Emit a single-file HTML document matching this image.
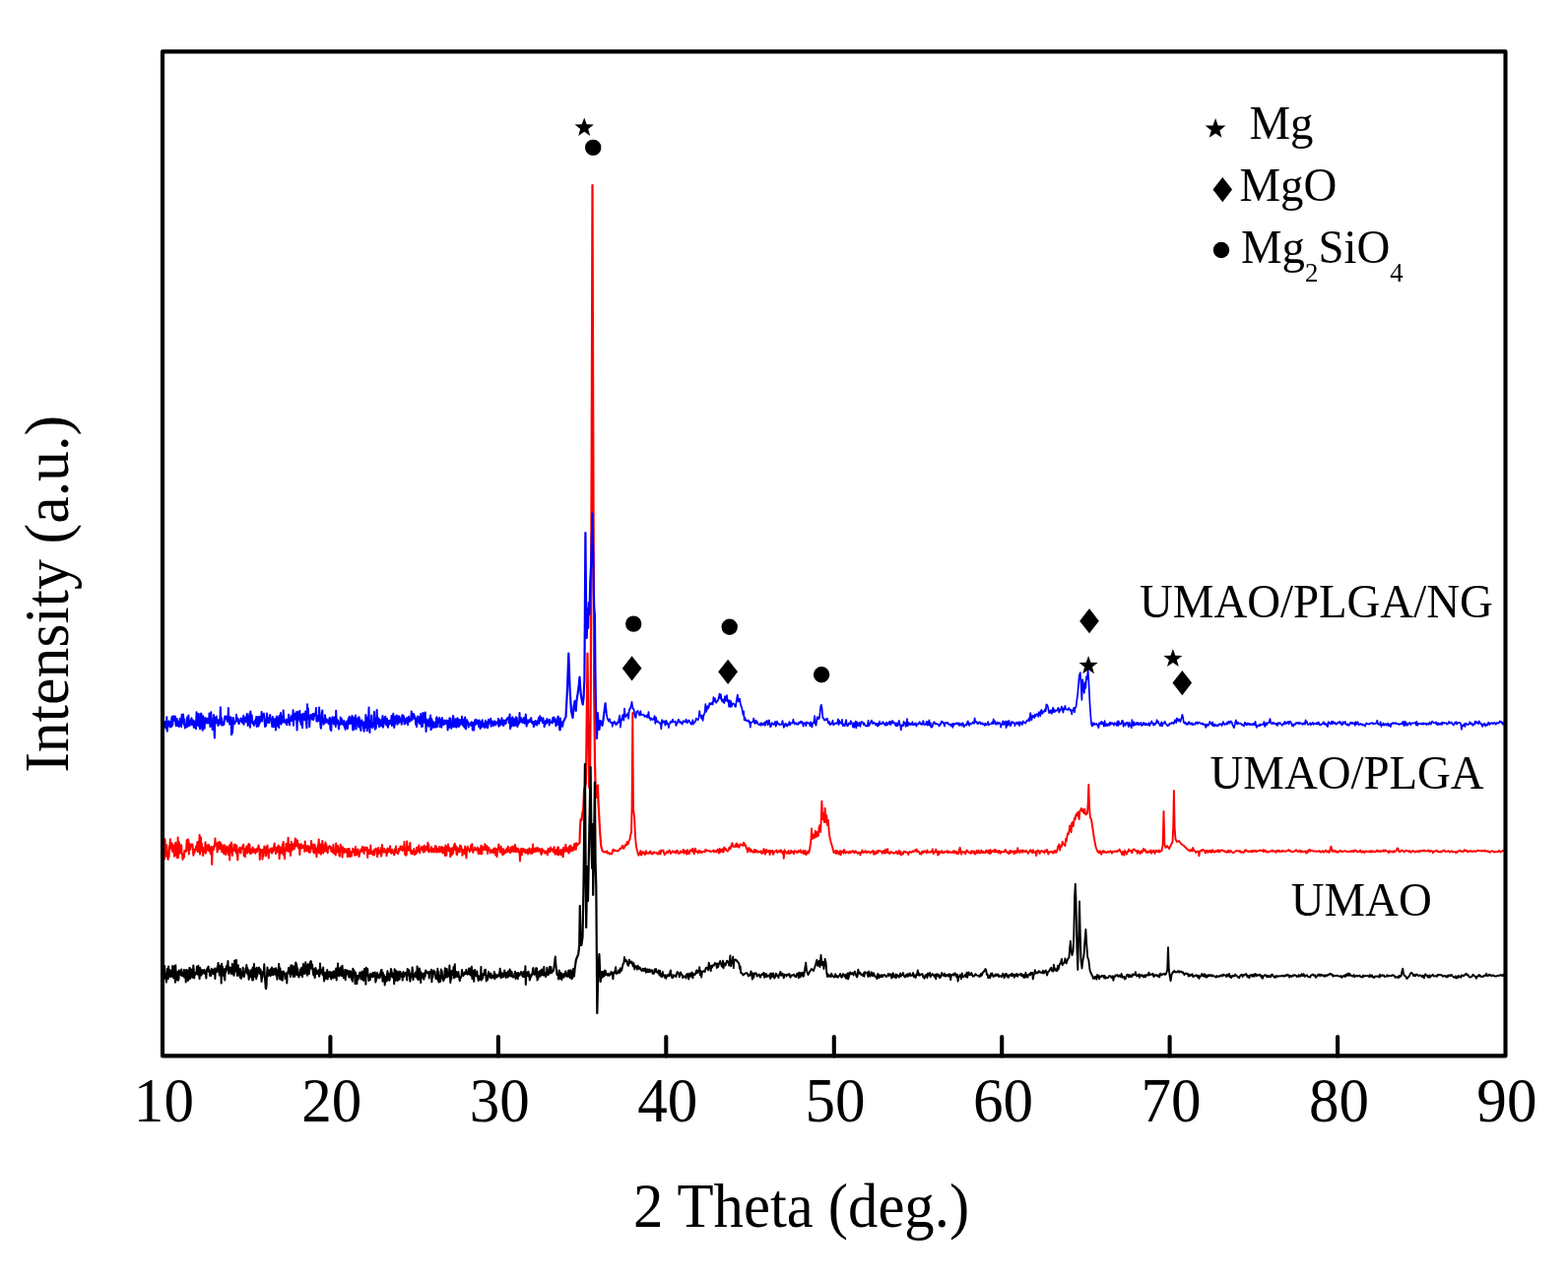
<!DOCTYPE html>
<html lang="en">
<head>
<meta charset="utf-8">
<title>XRD patterns</title>
<style>
html,body{margin:0;padding:0;background:#fff;}
body{width:1592px;height:1300px;overflow:hidden;position:relative;}
svg{position:absolute;left:0;top:0;display:block;}
text{font-family:"Liberation Serif","DejaVu Serif",serif;fill:#000;}
.c{fill:none;stroke-linejoin:round;stroke-linecap:butt;}
</style>
</head>
<body>
<svg width="1592" height="1300" viewBox="0 0 1592 1300">
<rect x="0" y="0" width="1592" height="1300" fill="#fff"/>
<g class="c" stroke="#ff0000">
<path stroke-width="2.0" d="M165.3 855.9L165.8 858.8L166.2 856.5L166.6 860.0L167.1 872.4L167.5 852.2L168.0 867.1L168.4 869.4L168.9 861.3L169.3 858.3L169.8 865.9L170.2 871.6L170.7 872.9L171.1 866.3L171.6 870.1L172.0 859.8L172.5 858.1L172.9 852.3L173.4 857.7L173.8 860.4L174.3 862.9L174.7 856.5L175.2 865.0L175.6 861.1L176.1 858.8L176.5 858.5L177.0 869.7L177.4 862.2L177.9 857.9L178.3 855.7L178.8 868.7L179.2 858.2L179.7 870.9L180.1 869.3L180.6 850.4L181.0 871.2L181.5 860.1L181.9 855.5L182.4 859.2L182.8 866.5L183.3 863.1L183.7 863.7L184.2 858.2L184.6 866.9L185.1 867.4L185.5 873.0L186.0 867.5L186.4 871.2L186.9 870.8L187.3 864.0L187.8 864.8L188.2 864.0L188.7 863.4L189.1 864.8L189.6 853.3L190.0 859.5L190.5 863.1L190.9 852.6L191.4 853.9L191.8 867.4L192.3 856.7L192.7 858.4L193.2 862.8L193.6 859.2L194.1 857.4L194.5 859.0L195.0 859.5L195.4 857.4L195.9 862.0L196.3 868.8L196.8 862.6L197.2 866.9L197.7 864.7L198.1 863.9L198.6 863.6L199.0 859.5L199.5 862.4L199.9 861.9L200.4 855.0L200.8 865.0L201.3 865.1L201.7 863.6L202.2 857.7L202.6 847.9L203.1 867.6L203.5 860.3L204.0 850.5L204.4 864.2L204.9 856.8L205.3 864.0L205.8 860.4L206.2 868.9L206.7 862.3L207.1 861.8L207.6 861.2L208.0 865.4L208.5 855.3L208.9 866.6L209.4 864.0L209.8 858.6L210.3 860.6L210.7 858.4L211.2 860.9L211.6 863.8L212.1 858.1L212.5 863.8L213.0 864.8L213.4 862.8L213.9 867.3L214.3 860.1L214.8 863.9L215.2 878.0L215.7 860.7L216.1 860.1L216.6 860.7L217.0 862.9L217.5 858.7L217.9 859.7L218.4 851.5L218.8 857.1L219.3 856.2L219.7 856.8L220.2 859.6L220.6 865.4L221.1 859.7L221.5 855.5L222.0 862.6L222.4 862.0L222.9 855.1L223.3 862.1L223.8 855.7L224.2 859.1L224.7 858.0L225.1 865.0L225.6 858.2L226.0 860.1L226.5 862.5L226.9 866.4L227.4 867.0L227.8 858.2L228.3 866.2L228.7 863.2L229.2 868.1L229.6 865.5L230.1 859.4L230.5 862.5L231.0 860.9L231.4 863.8L231.9 868.1L232.3 862.9L232.8 858.7L233.2 873.5L233.7 857.5L234.1 862.8L234.6 862.8L235.0 855.5L235.5 865.5L235.9 869.0L236.4 862.8L236.8 863.4L237.3 862.7L237.7 857.8L238.2 864.0L238.6 857.7L239.1 858.1L239.5 865.0L240.0 866.6L240.4 858.7L240.9 867.8L241.3 873.5L241.8 864.3L242.2 863.2L242.7 864.3L243.1 861.6L243.6 860.6L244.0 866.0L244.5 866.4L244.9 861.8L245.4 862.1L245.8 861.6L246.3 860.1L246.7 858.3L247.2 857.7L247.6 869.1L248.1 862.6L248.5 863.9L249.0 870.2L249.4 861.5L249.9 866.1L250.3 859.6L250.8 861.4L251.2 866.5L251.7 862.8L252.1 858.6L252.6 856.9L253.0 864.8L253.5 857.8L253.9 867.0L254.4 864.5L254.8 862.6L255.3 863.3L255.7 866.5L256.2 863.8L256.6 860.4L257.1 864.8L257.5 862.6L258.0 862.4L258.4 865.8L258.9 866.2L259.3 866.7L259.8 863.2L260.2 862.3L260.7 862.6L261.1 865.1L261.6 861.1L262.0 862.5L262.5 858.5L262.9 860.9L263.4 862.9L263.8 872.9L264.3 862.7L264.7 864.6L265.2 864.4L265.6 863.2L266.1 863.9L266.5 872.6L267.0 863.0L267.4 869.7L267.9 866.9L268.3 859.6L268.8 860.2L269.2 862.5L269.7 860.4L270.1 869.3L270.6 865.4L271.0 865.8L271.5 858.5L271.9 865.4L272.4 862.4L272.8 871.5L273.3 863.4L273.7 864.7L274.2 865.1L274.6 862.3L275.1 861.5L275.5 862.4L276.0 866.6L276.4 861.5L276.9 863.4L277.3 865.1L277.8 862.7L278.2 859.3L278.7 856.6L279.1 862.7L279.6 860.7L280.0 867.1L280.5 864.0L280.9 863.7L281.4 860.6L281.8 865.2L282.3 862.4L282.7 858.4L283.2 860.2L283.6 872.1L284.1 861.0L284.5 860.4L285.0 866.8L285.4 865.8L285.9 861.6L286.3 866.4L286.8 857.3L287.2 860.8L287.7 855.0L288.1 868.8L288.6 862.6L289.0 872.2L289.5 864.0L289.9 864.0L290.4 857.1L290.8 858.6L291.3 860.2L291.7 864.2L292.2 858.7L292.6 850.8L293.1 864.4L293.5 865.0L294.0 858.1L294.4 863.2L294.9 868.9L295.3 865.6L295.8 854.8L296.2 861.1L296.7 857.7L297.1 863.3L297.6 860.9L298.0 857.0L298.5 860.8L298.9 862.1L299.4 854.6L299.8 851.4L300.3 857.3L300.7 859.4L301.2 857.4L301.6 853.2L302.1 854.4L302.5 859.7L303.0 861.1L303.4 857.6L303.9 860.5L304.3 867.9L304.8 858.8L305.2 857.8L305.7 857.0L306.1 861.5L306.6 860.4L307.0 860.4L307.5 858.7L307.9 861.1L308.4 861.3L308.8 858.8L309.3 864.8L309.7 854.4L310.2 862.2L310.6 859.2L311.1 861.7L311.5 864.3L312.0 859.7L312.4 859.0L312.9 859.3L313.3 864.1L313.8 865.8L314.2 860.0L314.7 861.3L315.1 865.6L315.6 861.9L316.0 854.0L316.5 857.7L316.9 858.4L317.4 861.5L317.8 857.9L318.3 865.8L318.7 858.1L319.2 866.4L319.6 857.7L320.1 865.3L320.5 861.1L321.0 863.7L321.4 870.1L321.9 864.5L322.3 864.8L322.8 858.4L323.2 858.7L323.7 852.4L324.1 866.5L324.6 864.9L325.0 863.7L325.5 857.4L325.9 867.8L326.4 859.2L326.8 863.3L327.3 854.1L327.7 858.7L328.2 866.5L328.6 863.8L329.1 858.7L329.5 861.3L330.0 864.3L330.4 855.5L330.9 864.4L331.3 857.6L331.8 864.1L332.2 860.9L332.7 866.3L333.1 860.6L333.6 860.6L334.0 860.2L334.5 859.2L334.9 861.4L335.4 859.7L335.8 859.9L336.3 864.5L336.7 861.2L337.2 865.1L337.6 865.6L338.1 865.3L338.5 857.8L339.0 863.9L339.4 867.0L339.9 865.7L340.3 865.9L340.8 868.5L341.2 856.4L341.7 864.5L342.1 865.7L342.6 862.6L343.0 859.1L343.5 864.0L343.9 863.0L344.4 868.4L344.8 869.6L345.3 861.7L345.7 857.7L346.2 860.5L346.6 863.7L347.1 861.8L347.5 870.6L348.0 860.3L348.4 863.9L348.9 864.7L349.3 866.0L349.8 862.0L350.2 863.7L350.7 865.1L351.1 865.4L351.6 862.6L352.0 863.4L352.5 865.8L352.9 870.3L353.4 861.9L353.8 867.9L354.3 869.5L354.7 861.9L355.2 870.0L355.6 869.1L356.1 865.5L356.5 869.4L357.0 869.4L357.4 864.6L357.9 865.6L358.3 861.7L358.8 862.9L359.2 865.3L359.7 864.8L360.1 868.8L360.6 864.5L361.0 860.1L361.5 867.0L361.9 868.2L362.4 866.0L362.8 864.7L363.3 862.5L363.7 863.1L364.2 868.2L364.6 870.1L365.1 866.3L365.5 866.1L366.0 864.2L366.4 862.7L366.9 863.8L367.3 864.8L367.8 860.0L368.2 861.4L368.7 860.3L369.1 863.1L369.6 866.9L370.0 861.7L370.5 860.8L370.9 860.5L371.4 863.6L371.8 861.8L372.3 861.5L372.7 860.9L373.2 871.0L373.6 864.4L374.1 863.1L374.5 863.3L375.0 867.0L375.4 867.2L375.9 865.3L376.3 858.5L376.8 866.7L377.2 867.2L377.7 866.6L378.1 866.1L378.6 864.7L379.0 868.5L379.5 863.4L379.9 868.3L380.4 862.8L380.8 863.6L381.3 863.3L381.7 861.8L382.2 863.1L382.6 866.9L383.1 870.2L383.5 863.0L384.0 860.9L384.4 867.2L384.9 863.7L385.3 865.0L385.8 864.7L386.2 866.4L386.7 861.2L387.1 869.7L387.6 866.7L388.0 858.1L388.5 863.8L388.9 863.4L389.4 865.6L389.8 864.0L390.3 862.0L390.7 863.2L391.2 865.7L391.6 864.3L392.1 863.7L392.5 869.3L393.0 865.7L393.4 861.6L393.9 864.5L394.3 865.4L394.8 862.0L395.2 864.4L395.7 862.2L396.1 859.2L396.6 865.4L397.0 866.3L397.5 866.6L397.9 863.7L398.4 862.8L398.8 864.5L399.3 865.3L399.7 866.5L400.2 868.4L400.6 867.2L401.1 862.3L401.5 863.7L402.0 859.5L402.4 865.5L402.9 866.0L403.3 866.3L403.8 865.2L404.2 867.2L404.7 861.9L405.1 864.6L405.6 863.3L406.0 863.3L406.5 859.4L406.9 861.5L407.4 859.6L407.8 863.0L408.3 861.7L408.7 864.1L409.2 859.5L409.6 862.4L410.1 863.0L410.5 854.9L411.0 867.7L411.4 865.0L411.9 861.7L412.3 868.8L412.8 867.5L413.2 854.4L413.7 862.6L414.1 862.3L414.6 863.6L415.0 860.0L415.5 862.8L415.9 863.7L416.4 856.0L416.8 863.7L417.3 866.7L417.7 863.7L418.2 866.2L418.6 867.6L419.1 864.0L419.5 864.1L420.0 864.3L420.4 862.0L420.9 868.1L421.3 864.5L421.8 864.9L422.2 865.5L422.7 867.0L423.1 860.7L423.6 860.9L424.0 863.7L424.5 864.8L424.9 860.9L425.4 858.4L425.8 865.2L426.3 866.2L426.7 862.3L427.2 862.4L427.6 861.7L428.1 859.9L428.5 861.2L429.0 863.5L429.4 862.7L429.9 865.6L430.3 859.6L430.8 858.7L431.2 864.9L431.7 860.9L432.1 862.3L432.6 863.0L433.0 859.8L433.5 859.7L433.9 863.6L434.4 855.8L434.8 864.4L435.3 858.1L435.7 865.4L436.2 863.5L436.6 863.4L437.1 863.8L437.5 863.2L438.0 860.2L438.4 865.5L438.9 863.1L439.3 864.0L439.8 862.6L440.2 861.8L440.7 865.5L441.1 864.9L441.6 863.3L442.0 859.1L442.5 860.9L442.9 859.7L443.4 865.8L443.8 864.3L444.3 863.0L444.7 862.4L445.2 861.6L445.6 865.3L446.1 860.1L446.5 861.2L447.0 864.9L447.4 864.8L447.9 862.8L448.3 860.1L448.8 860.3L449.2 866.0L449.7 863.8L450.1 866.5L450.6 861.0L451.0 862.8L451.5 861.2L451.9 868.9L452.4 858.6L452.8 864.4L453.3 868.8L453.7 860.9L454.2 860.4L454.6 859.5L455.1 857.5L455.5 864.2L456.0 862.8L456.4 860.9L456.9 862.4L457.3 870.3L457.8 862.5L458.2 862.1L458.7 868.3L459.1 861.3L459.6 861.6L460.0 866.9L460.5 863.1L460.9 858.6L461.4 859.5L461.8 856.8L462.3 861.3L462.7 863.6L463.2 859.4L463.6 867.9L464.1 867.9L464.5 865.5L465.0 861.2L465.4 863.1L465.9 864.2L466.3 865.2L466.8 865.3L467.2 858.4L467.7 860.7L468.1 859.5L468.6 861.7L469.0 863.5L469.5 868.8L469.9 862.9L470.4 865.8L470.8 863.3L471.3 863.0L471.7 866.9L472.2 859.6L472.6 864.4L473.1 867.7L473.5 871.4L474.0 862.1L474.4 861.0L474.9 859.8L475.3 862.1L475.8 863.1L476.2 863.2L476.7 865.2L477.1 862.2L477.6 864.1L478.0 858.4L478.5 861.8L478.9 862.8L479.4 857.2L479.8 863.6L480.3 865.9L480.7 863.4L481.2 863.7L481.6 863.2L482.1 860.7L482.5 863.3L483.0 862.1L483.4 863.4L483.9 863.4L484.3 863.5L484.8 860.5L485.2 863.1L485.7 867.0L486.1 865.5L486.6 862.8L487.0 861.9L487.5 867.2L487.9 863.3L488.4 858.8L488.8 862.1L489.3 867.1L489.7 859.6L490.2 863.4L490.6 860.9L491.1 863.1L491.5 862.4L492.0 861.5L492.4 857.2L492.9 862.3L493.3 863.3L493.8 863.0L494.2 859.0L494.7 861.3L495.1 867.0L495.6 860.8L496.0 862.4L496.5 861.1L496.9 862.8L497.4 863.9L497.8 866.2L498.3 863.9L498.7 863.4L499.2 864.0L499.6 865.4L500.1 863.3L500.5 863.3L501.0 866.3L501.4 861.8L501.9 863.1L502.3 861.5L502.8 862.4L503.2 868.6L503.7 861.8L504.1 864.8L504.6 869.9L505.0 864.7L505.5 862.9L505.9 861.4L506.4 857.5L506.8 861.8L507.3 860.7L507.7 865.7L508.2 865.2L508.6 859.7L509.1 864.5L509.5 862.1L510.0 867.4L510.4 868.2L510.9 865.4L511.3 862.3L511.8 867.3L512.2 865.7L512.7 866.2L513.1 864.8L513.6 863.2L514.0 865.5L514.5 861.8L514.9 865.3L515.4 864.3L515.8 859.8L516.3 864.8L516.7 863.6L517.2 863.0L517.6 863.5L518.1 866.2L518.5 860.4L519.0 861.9L519.4 865.1L519.9 864.3L520.3 859.8L520.8 864.0L521.2 859.7L521.7 865.0L522.1 864.3L522.6 864.7L523.0 857.9L523.5 862.4L523.9 865.3L524.4 861.5L524.8 864.7L525.3 863.3L525.7 864.0L526.2 861.7L526.6 865.7L527.1 864.4L527.5 865.3L528.0 874.5L528.4 863.3L528.9 863.9L529.3 861.7L529.8 868.3L530.2 862.7L530.7 865.2L531.1 861.9L531.6 863.3L532.0 865.0L532.5 865.0L532.9 862.7L533.4 866.4L533.8 864.1L534.3 866.0L534.7 863.6L535.2 865.7L535.6 862.8L536.1 867.5L536.5 864.0L537.0 864.1L537.4 861.5L537.9 865.8L538.3 864.3L538.8 863.6L539.2 866.8L539.7 862.2L540.1 866.7L540.6 866.4L541.0 857.4L541.5 865.5L541.9 865.1L542.4 864.5L542.8 864.8L543.3 861.5L543.7 864.9L544.2 864.5L544.6 861.8L545.1 863.8L545.5 860.8L546.0 864.4L546.4 862.1L546.9 864.5L547.3 861.8L547.8 863.2L548.2 862.6L548.7 863.7L549.1 866.2L549.6 868.0L550.0 861.7L550.5 866.4L550.9 863.7L551.4 863.2L551.8 863.8L552.3 864.1L552.7 864.2L553.2 866.0L553.6 866.8L554.1 865.2L554.5 864.6L555.0 865.5L555.4 865.3L555.9 868.4L556.3 863.1L556.8 861.8L557.2 864.0L557.7 865.3L558.1 864.1L558.6 865.0L559.0 860.5L559.5 863.1L559.9 863.5L560.4 862.3L560.8 863.6L561.3 863.9L561.7 865.2L562.2 862.4L562.6 860.2L563.1 865.3L563.5 867.7L564.0 864.9L564.4 864.8L564.9 863.0L565.3 865.0L565.8 867.7L566.2 860.5L566.7 868.4L567.1 860.5L567.6 867.2L568.0 866.2L568.5 864.2"/>
<path stroke-width="2.2" d="M567.6 867.2L568.0 866.2L568.5 864.2L568.9 865.4L569.4 868.0L569.8 863.0L570.3 867.2L570.7 865.6L571.2 864.5L571.6 870.2L572.1 861.1L572.5 863.9L573.0 862.1L573.4 863.8L573.9 864.8L574.3 858.2L574.8 863.9L575.2 863.9L575.7 861.4L576.1 862.8L576.6 864.9L577.0 863.5L577.5 866.4L577.9 860.2L578.4 859.5L578.8 864.3L579.3 858.8L579.7 864.4L580.2 861.8L580.6 863.0L581.1 860.6L581.5 862.6L582.0 863.7L582.4 863.3L582.9 860.8L583.3 857.1L583.8 860.9L584.2 859.3L584.7 862.6L585.1 856.4L585.6 859.0L586.0 858.0L587.5 857.0L588.5 856.0L589.0 840.0L589.6 832.0L590.5 833.0L591.3 826.0L592.2 822.0L593.1 802.0L594.0 799.0L594.9 795.0L595.6 740.0L596.5 663.5L597.3 740.0L598.2 800.0L599.0 790.0L599.8 700.0L600.6 480.0L601.5 188.0L602.4 480.0L603.2 700.0L604.0 775.0L604.8 805.0L605.8 810.0L606.9 797.5L607.4 812.0L607.9 822.0L608.6 835.0L609.2 845.0L610.2 859.0L611.5 864.0L612.2 864.7L612.9 865.0L613.6 865.0L614.3 865.5L615.0 865.4L615.6 865.3L616.3 864.3"/>
<path stroke-width="1.9" d="M615.6 865.3L616.3 864.3L617.0 866.7L617.7 866.1L618.4 866.2L619.0 867.6L619.7 867.1L620.4 866.5L621.1 867.4L621.8 864.9L622.4 862.8L623.1 864.4L623.8 863.0L624.5 864.2L625.2 864.0L625.8 863.9L626.5 864.4L627.2 864.5L627.9 864.2L628.6 863.4L629.2 862.2L629.9 861.4L630.6 861.9L631.3 861.2L632.0 858.6L632.6 860.3L633.3 861.9L634.0 860.2L634.7 858.2L635.4 858.8L636.0 858.3L636.7 854.9L637.4 857.6L638.1 856.4L638.8 853.1L639.4 853.1L640.0 849.0L641.0 845.0L641.6 820.0L642.3 724.0L643.0 822.0L643.6 826.0L644.2 832.0L645.0 850.0L646.0 860.0L647.8 867.0L648.3 868.8L649.0 866.8L649.6 867.2L650.3 864.0L651.0 868.6L651.7 867.9L652.4 865.3L653.0 865.4L653.7 865.7L654.4 867.7L655.1 867.9L655.8 864.1L656.4 865.7L657.1 866.9L657.8 866.7L658.5 865.9L659.2 866.8L659.8 864.8L660.5 864.5L661.2 866.7L661.9 867.3L662.6 867.5L663.2 865.7L663.9 865.2L664.6 866.1L665.3 865.9L666.0 866.0L666.6 865.9L667.3 867.2L668.0 866.6L668.7 867.6L669.4 864.8L670.0 864.3L670.7 867.4L671.4 863.4L672.1 863.9L672.8 864.5L673.4 863.6L674.1 866.2L674.8 868.2L675.5 866.6L676.2 866.7L676.8 865.3L677.5 864.6L678.2 866.2L678.9 864.5L679.6 863.5L680.2 864.5L680.9 867.0L681.6 866.1L682.3 865.2L683.0 864.3L683.6 864.5L684.3 865.8L685.0 865.3L685.7 864.6L686.4 866.6L687.0 863.9L687.7 863.8L688.4 865.0L689.1 867.0L689.8 866.2L690.4 866.3L691.1 864.3L691.8 865.8L692.5 865.5L693.2 864.7L693.8 862.9L694.5 866.8L695.2 865.2L695.9 864.1L696.6 865.9L697.2 867.7L697.9 863.3L698.6 865.3L699.3 867.1L700.0 866.8L700.6 863.5L701.3 864.2L702.0 863.1L702.7 864.8L703.4 861.8L704.0 863.9L704.7 867.3L705.4 863.5L706.1 861.8L706.8 864.8L707.4 865.1L708.1 865.1L708.8 866.5L709.5 863.6L710.2 864.6L710.8 865.6L711.5 864.4L712.2 866.1L712.9 865.7L713.6 864.8L714.2 864.6L714.9 864.8L715.6 865.4L716.3 862.8L717.0 863.1L717.6 864.0L718.3 863.9L719.0 864.0L719.7 863.9L720.4 864.7L721.0 864.2L721.7 864.9L722.4 864.9L723.1 864.5L723.8 864.1L724.4 863.5L725.1 865.4L725.8 863.9L726.5 864.8L727.2 865.4L727.8 864.7L728.5 862.8L729.2 863.0L729.9 866.5L730.6 862.0L731.2 865.6L731.9 862.6L732.6 863.9L733.3 864.9L734.0 862.1L734.6 865.5L735.3 860.4L736.0 862.9L736.7 861.8L737.4 863.4L738.0 864.0L738.7 864.6L739.4 863.9L740.1 861.3L740.8 860.4L741.4 862.3L742.1 860.4L742.8 857.3L743.5 856.2L744.2 859.7L744.8 859.6L745.5 860.1L746.2 860.0L746.9 857.4L747.6 859.8L748.2 856.4L748.9 859.7L749.6 858.6L750.3 860.8L751.0 859.0L751.6 857.3L752.3 857.7L753.0 858.0L753.7 858.7L754.4 858.9L755.0 855.6L755.7 856.5L756.4 859.1L757.1 858.6L757.8 861.9L758.4 861.3L759.1 865.6L759.8 863.0L760.5 861.1L761.2 862.8L761.8 864.9L762.5 862.7L763.2 864.0L763.9 865.3L764.6 865.7L765.2 865.2L765.9 863.0L766.6 865.7L767.3 863.2L768.0 864.7L768.6 864.0L769.3 865.7L770.0 864.8L770.7 865.1L771.4 865.5L772.0 864.9L772.7 864.3L773.4 867.1L774.1 865.5L774.8 865.8L775.4 862.2L776.1 863.1L776.8 867.7L777.5 865.8L778.2 863.0L778.8 865.5L779.5 865.1L780.2 863.9L780.9 864.4L781.6 868.1L782.2 863.8L782.9 865.6L783.6 864.1L784.3 863.7L785.0 867.8L785.6 866.4L786.3 864.6L787.0 864.6L787.7 864.6L788.4 863.4L789.0 865.7L789.7 865.8L790.4 864.4L791.1 865.0L791.8 863.7L792.4 865.4L793.1 863.3L793.8 865.0L794.5 866.6L795.2 864.9L795.8 871.9L796.5 863.2L797.2 864.7L797.9 865.0L798.6 866.7L799.2 866.7L799.9 865.3L800.6 863.9L801.3 867.0L802.0 865.9L802.6 866.5L803.3 863.8L804.0 865.7L804.7 864.8L805.4 866.1L806.0 867.2L806.7 863.9L807.4 865.2L808.1 865.3L808.8 864.4L809.4 866.0L810.1 865.8L810.8 864.0L811.5 864.4L812.2 865.5L812.8 863.3L813.5 865.7L814.2 866.1L814.9 866.3L815.6 863.6L816.2 867.2L816.9 867.1L817.6 863.9L818.3 868.0L819.0 867.3L819.6 866.2L820.3 864.5L821.0 866.5L821.7 864.5L822.0 863.0L823.3 855.0L824.0 841.5L824.8 852.0L825.8 848.0L826.8 851.0L827.8 844.0L828.8 850.0L829.8 845.0L830.8 849.0L831.6 840.0L832.4 838.0L833.2 845.0L834.4 813.7L835.2 832.0L836.0 826.0L836.8 835.0L837.6 820.8L838.4 835.0L839.2 828.0L840.0 838.0L840.8 833.0L842.0 848.0L843.5 855.0L845.0 860.0L846.6 866.0L847.5 865.1L848.2 863.9L848.9 867.0L849.6 863.9L850.2 864.4L850.9 866.0L851.6 867.5L852.3 865.2L853.0 864.1L853.6 868.4L854.3 865.3L855.0 864.2L855.7 865.4L856.4 866.4L857.0 862.9L857.7 864.4L858.4 866.5L859.1 865.9L859.8 865.2L860.4 865.1L861.1 865.8L861.8 866.6L862.5 864.7L863.2 864.9L863.8 866.0L864.5 864.8L865.2 864.2L865.9 865.0L866.6 864.3L867.2 866.1L867.9 866.0L868.6 864.2L869.3 865.2L870.0 865.7L870.6 866.8L871.3 866.1L872.0 865.6L872.7 865.7L873.4 868.4L874.0 866.0L874.7 866.0L875.4 863.5L876.1 865.6L876.8 866.0L877.4 865.5L878.1 864.6L878.8 863.9L879.5 866.0L880.2 866.2L880.8 865.7L881.5 864.6L882.2 865.0L882.9 865.4L883.6 866.4L884.2 865.7L884.9 864.8L885.6 865.1L886.3 863.9L887.0 867.7L887.6 864.6L888.3 867.4L889.0 865.7L889.7 866.9L890.4 864.2L891.0 866.2L891.7 864.2L892.4 863.8L893.1 864.5L893.8 864.3L894.4 864.4L895.1 865.0L895.8 866.8L896.5 864.6L897.2 863.9L897.8 866.4L898.5 866.5L899.2 862.8L899.9 866.0L900.6 864.2L901.2 862.2L901.9 866.2L902.6 866.7L903.3 867.0L904.0 865.4L904.6 864.9L905.3 865.6L906.0 866.0L906.7 866.1L907.4 866.9L908.0 865.9L908.7 866.1L909.4 865.8L910.1 864.6L910.8 866.1L911.4 867.2L912.1 866.3L912.8 863.8L913.5 867.0L914.2 864.7L914.8 868.6L915.5 867.3L916.2 866.2L916.9 867.6L917.6 864.7L918.2 865.3L918.9 864.6L919.6 865.8L920.3 865.5L921.0 865.7L921.6 865.7L922.3 868.0L923.0 865.5L923.7 864.9L924.4 865.5L925.0 865.9L925.7 865.7L926.4 864.3L927.1 864.8L927.8 865.0L928.4 864.1L929.1 863.4L929.8 864.5L930.5 862.5L931.2 865.1L931.8 864.2L932.5 865.0L933.2 865.1L933.9 867.1L934.6 866.8L935.2 867.7L935.9 865.3L936.6 864.7L937.3 866.2L938.0 864.2L938.6 865.2L939.3 864.4L940.0 865.1L940.7 866.3L941.4 863.4L942.0 865.5L942.7 865.5L943.4 865.6L944.1 865.8L944.8 864.9L945.4 865.2L946.1 865.0L946.8 862.3L947.5 867.2L948.2 866.3L948.8 865.8L949.5 864.6L950.2 862.7L950.9 865.6L951.6 864.6L952.2 868.5L952.9 868.0L953.6 864.5L954.3 866.4L955.0 866.0L955.6 865.2L956.3 864.0L957.0 866.1L957.7 866.4L958.4 866.1L959.0 864.8L959.7 865.4L960.4 865.4L961.1 865.3L961.8 864.0L962.4 866.2L963.1 865.7L963.8 864.7L964.5 865.4L965.2 866.0L965.8 865.5L966.5 865.7L967.2 865.8L967.9 864.2L968.6 866.2L969.2 864.5L969.9 865.5L970.6 866.5L971.3 864.7L972.0 867.3L972.6 866.2L973.3 866.9L974.0 863.1L974.7 860.8L975.4 864.1L976.0 867.7L976.7 865.5L977.4 865.0L978.1 865.3L978.8 865.8L979.4 865.1L980.1 867.4L980.8 865.5L981.5 863.5L982.2 864.2L982.8 865.3L983.5 865.3L984.2 866.2L984.9 866.1L985.6 866.9L986.2 864.2L986.9 865.9L987.6 864.6L988.3 865.9L989.0 864.4L989.6 867.5L990.3 867.4L991.0 865.7L991.7 863.8L992.4 866.3L993.0 865.7L993.7 863.7L994.4 866.4L995.1 866.4L995.8 866.0L996.4 863.5L997.1 865.8L997.8 866.0L998.5 864.7L999.2 866.2L999.8 865.9L1000.5 866.1L1001.2 863.6L1001.9 864.9L1002.6 865.8L1003.2 863.8L1003.9 865.4L1004.6 867.0L1005.3 863.0L1006.0 866.6L1006.6 865.8L1007.3 864.0L1008.0 864.3L1008.7 864.1L1009.4 865.3L1010.0 862.7L1010.7 865.6L1011.4 863.6L1012.1 864.8L1012.8 864.8L1013.4 866.1L1014.1 864.0L1014.8 863.9L1015.5 866.8L1016.2 866.4L1016.8 865.0L1017.5 864.8L1018.2 865.4L1018.9 865.2L1019.6 865.2L1020.2 863.8L1020.9 863.0L1021.6 865.3L1022.3 865.0L1023.0 866.1L1023.6 866.5L1024.3 867.1L1025.0 864.2L1025.7 866.2L1026.4 864.0L1027.0 865.2L1027.7 865.6L1028.4 864.4L1029.1 864.9L1029.8 867.2L1030.4 864.1L1031.1 865.9L1031.8 864.4L1032.5 866.0L1033.2 861.3L1033.8 863.1L1034.5 864.7L1035.2 866.2L1035.9 864.7L1036.6 863.6L1037.2 864.5L1037.9 865.7L1038.6 863.5L1039.3 864.9L1040.0 864.6L1040.6 864.2L1041.3 865.3L1042.0 863.8L1042.7 865.4L1043.4 865.6L1044.0 866.9L1044.7 865.2L1045.4 864.9L1046.1 863.2L1046.8 864.7L1047.4 864.2L1048.1 866.3L1048.8 863.1L1049.5 865.5L1050.2 865.6L1050.8 866.0L1051.5 864.7L1052.2 869.1L1052.9 864.8L1053.6 863.6L1054.2 864.4L1054.9 864.2L1055.6 867.0L1056.3 865.0L1057.0 864.3L1057.6 863.9L1058.3 865.0L1059.0 864.6L1059.7 865.0L1060.4 866.4L1061.0 863.8L1061.7 864.4L1062.4 865.1L1063.1 862.9L1063.8 865.5L1064.4 867.5L1065.1 865.3L1065.8 865.6L1066.5 864.8L1067.2 865.1L1067.8 865.5L1068.5 865.0L1069.2 866.6L1069.9 864.6L1070.6 865.6L1071.2 863.8L1071.9 865.7L1072.6 865.8L1073.3 863.8L1074.0 859.8L1074.6 860.5L1075.3 857.4L1076.0 863.5L1076.7 859.8L1077.4 858.7L1078.0 859.7L1078.7 854.7L1079.4 857.1L1080.1 857.3L1080.8 858.0L1081.4 859.1L1082.1 852.0L1082.8 854.2L1083.5 848.7L1084.2 846.2L1084.8 847.3L1085.5 844.3L1086.2 838.5L1086.9 840.2L1087.6 845.2L1088.2 836.0L1088.9 834.9L1089.6 839.3L1090.3 834.4L1091.0 830.8L1091.6 832.3L1092.3 827.9L1093.0 826.6L1093.7 828.4L1094.4 824.8L1095.0 828.8L1095.7 832.0L1096.4 823.4L1097.1 823.2L1097.8 820.9L1098.4 823.8L1099.1 822.2L1099.8 824.6L1100.5 825.9L1101.2 821.6L1101.8 825.3L1102.5 827.4L1103.2 826.7L1104.0 826.0L1104.7 815.0L1105.3 797.0L1106.0 818.0L1106.8 830.0L1108.0 832.0L1109.5 842.0L1111.0 852.0L1112.5 860.0L1114.4 865.0L1114.8 864.4L1115.4 865.8L1116.1 866.2L1116.8 864.2L1117.5 864.7L1118.2 867.9L1118.8 865.6L1119.5 865.0L1120.2 863.9L1120.9 865.8L1121.6 864.7L1122.2 865.7L1122.9 865.5L1123.6 866.0L1124.3 865.6L1125.0 864.7L1125.6 865.3L1126.3 865.5L1127.0 864.7L1127.7 864.2L1128.4 865.3L1129.0 866.7L1129.7 864.9L1130.4 864.7L1131.1 865.2L1131.8 864.4L1132.4 864.9L1133.1 864.9L1133.8 864.3L1134.5 865.1L1135.2 864.0L1135.8 864.0L1136.5 862.6L1137.2 863.6L1137.9 864.9L1138.6 866.1L1139.2 867.9L1139.9 865.2L1140.6 864.9L1141.3 868.7L1142.0 863.7L1142.6 865.7L1143.3 865.4L1144.0 867.6L1144.7 864.9L1145.4 865.0L1146.0 862.5L1146.7 864.0L1147.4 864.5L1148.1 863.8L1148.8 864.0L1149.4 866.4L1150.1 863.4L1150.8 862.6L1151.5 862.4L1152.2 863.3L1152.8 864.0L1153.5 864.6L1154.2 864.0L1154.9 866.9L1155.6 864.0L1156.2 864.7L1156.9 865.4L1157.6 867.1L1158.3 864.7L1159.0 864.3L1159.6 865.8L1160.3 864.3L1161.0 861.9L1161.7 863.3L1162.4 864.1L1163.0 863.0L1163.7 865.7L1164.4 865.0L1165.1 866.0L1165.8 864.9L1166.4 864.4L1167.1 865.6L1167.8 865.2L1168.5 863.4L1169.2 866.8L1169.8 864.7L1170.5 865.1L1171.2 863.7L1171.9 865.4L1172.6 866.7L1173.2 864.4L1173.9 863.6L1174.6 864.8L1175.3 864.8L1176.0 865.3L1176.6 863.4L1177.3 865.5L1178.0 864.9L1178.7 864.3L1179.5 864.0L1180.6 858.0L1181.5 824.0L1182.4 858.0L1183.5 861.0L1185.0 859.0L1187.0 862.0L1189.0 858.0L1190.5 855.0L1191.2 840.0L1191.9 803.0L1192.6 840.0L1193.4 852.0L1195.0 855.0L1197.0 854.0L1199.0 857.0L1202.0 859.0L1205.0 862.0L1208.0 864.5L1208.6 863.1L1209.3 862.8L1210.0 864.3L1210.6 864.2L1211.3 861.0L1212.0 863.4L1212.7 864.2L1213.4 864.5L1214.0 866.0L1214.7 865.2L1215.4 864.7L1216.1 864.5L1216.8 865.6L1217.4 869.3L1218.1 864.3L1218.8 864.0L1219.5 863.4L1220.2 864.5L1220.8 863.2L1221.5 862.9L1222.2 863.5L1222.9 863.9L1223.6 865.9L1224.2 866.3L1224.9 864.1L1225.6 863.7L1226.3 865.8L1227.0 864.5L1227.6 864.1L1228.3 865.4L1229.0 863.7L1229.7 864.9L1230.4 865.8L1231.0 863.1L1231.7 864.8L1232.4 864.3L1233.1 865.7L1233.8 865.3L1234.4 864.0L1235.1 864.5L1235.8 863.7L1236.5 865.2L1237.2 863.2L1237.8 864.1L1238.5 865.3L1239.2 863.8L1239.9 863.7L1240.6 863.5L1241.2 863.4L1241.9 864.2L1242.6 864.2L1243.3 864.7L1244.0 864.4L1244.6 865.4L1245.3 864.9L1246.0 865.7L1246.7 864.0L1247.4 863.8L1248.0 865.6L1248.7 865.2L1249.4 863.8L1250.1 864.6L1250.8 865.4L1251.4 865.7L1252.1 866.1L1252.8 865.9L1253.5 865.2L1254.2 864.6L1254.8 864.3L1255.5 864.2L1256.2 863.9L1256.9 864.2L1257.6 864.6L1258.2 864.8L1258.9 864.0L1259.6 865.1L1260.3 865.9L1261.0 865.3L1261.6 865.5L1262.3 865.7L1263.0 865.8L1263.7 863.7L1264.4 864.3L1265.0 863.2L1265.7 864.2L1266.4 864.6L1267.1 864.2L1267.8 865.2L1268.4 864.7L1269.1 864.8L1269.8 864.7L1270.5 863.8L1271.2 865.4L1271.8 864.7L1272.5 863.7L1273.2 864.7L1273.9 864.7L1274.6 863.8L1275.2 864.3L1275.9 865.0L1276.6 864.5L1277.3 864.1L1278.0 863.9L1278.6 864.0L1279.3 863.3L1280.0 863.6L1280.7 864.0L1281.4 863.9L1282.0 864.7L1282.7 863.1L1283.4 865.0L1284.1 863.7L1284.8 863.5L1285.4 864.4L1286.1 865.6L1286.8 864.8L1287.5 865.4L1288.2 865.5L1288.8 864.8L1289.5 864.7L1290.2 864.5L1290.9 864.4L1291.6 863.5L1292.2 864.8L1292.9 864.3L1293.6 864.6L1294.3 864.3L1295.0 864.8L1295.6 865.8L1296.3 864.0L1297.0 864.6L1297.7 863.7L1298.4 863.7L1299.0 865.0L1299.7 864.3L1300.4 865.1L1301.1 864.6L1301.8 863.8L1302.4 864.8L1303.1 864.3L1303.8 864.6L1304.5 864.5L1305.2 864.8L1305.8 864.6L1306.5 864.2L1307.2 863.9L1307.9 863.4L1308.6 863.1L1309.2 864.4L1309.9 864.0L1310.6 864.4L1311.3 865.1L1312.0 865.3L1312.6 865.2L1313.3 864.7L1314.0 864.7L1314.7 864.4L1315.4 864.1L1316.0 863.1L1316.7 864.4L1317.4 864.8L1318.1 864.7L1318.8 864.9L1319.4 863.7L1320.1 864.0L1320.8 865.5L1321.5 864.0L1322.2 864.7L1322.8 865.1L1323.5 865.1L1324.2 864.6L1324.9 864.6L1325.6 864.3L1326.2 866.6L1326.9 865.3L1327.6 865.9L1328.3 863.5L1329.0 863.8L1329.6 862.9L1330.3 864.7L1331.0 863.9L1331.7 863.6L1332.4 863.9L1333.0 864.2L1333.7 864.7L1334.4 864.4L1335.1 864.3L1335.8 864.7L1336.4 865.0L1337.1 864.4L1337.8 864.6L1338.5 864.5L1339.2 864.8L1339.8 864.0L1340.5 865.3L1341.2 865.6L1341.9 864.8L1342.6 864.7L1343.2 864.1L1343.9 865.7L1344.6 864.9L1345.3 864.6L1346.0 863.6L1346.6 864.7L1347.3 865.2L1348.0 864.2L1348.7 865.0L1349.4 865.8L1350.0 864.9L1350.7 862.2L1351.4 859.6L1352.1 862.4L1352.8 864.9L1353.4 863.7L1354.1 864.7L1354.8 863.9L1355.5 863.9L1356.2 865.4L1356.8 864.4L1357.5 865.1L1358.2 865.9L1358.9 864.8L1359.6 864.6L1360.2 864.0L1360.9 864.5L1361.6 864.1L1362.3 865.2L1363.0 864.6L1363.6 864.9L1364.3 864.7L1365.0 864.2L1365.7 864.4L1366.4 864.2L1367.0 864.8L1367.7 865.0L1368.4 864.8L1369.1 865.2L1369.8 864.7L1370.4 864.6L1371.1 865.0L1371.8 864.2L1372.5 864.8L1373.2 864.1L1373.8 865.0L1374.5 865.0L1375.2 863.4L1375.9 863.5L1376.6 863.6L1377.2 864.7L1377.9 864.4L1378.6 865.3L1379.3 864.7L1380.0 865.0L1380.6 864.0L1381.3 863.6L1382.0 865.4L1382.7 865.7L1383.4 864.5L1384.0 864.4L1384.7 865.7L1385.4 866.0L1386.1 864.5L1386.8 864.4L1387.4 864.9L1388.1 864.7L1388.8 864.7L1389.5 865.1L1390.2 864.3L1390.8 864.6L1391.5 865.5L1392.2 864.0L1392.9 865.2L1393.6 864.4L1394.2 865.2L1394.9 864.5L1395.6 864.6L1396.3 865.2L1397.0 864.7L1397.6 864.6L1398.3 863.6L1399.0 864.7L1399.7 864.3L1400.4 864.9L1401.0 864.4L1401.7 864.1L1402.4 865.0L1403.1 864.3L1403.8 864.0L1404.4 863.4L1405.1 864.9L1405.8 864.5L1406.5 863.3L1407.2 864.1L1407.8 864.1L1408.5 864.9L1409.2 864.7L1409.9 866.2L1410.6 864.2L1411.2 864.2L1411.9 865.0L1412.6 864.9L1413.3 864.7L1414.0 865.5L1414.6 864.7L1415.3 864.1L1416.0 865.4L1416.7 864.8L1417.4 864.3L1418.0 863.1L1418.7 861.4L1419.4 861.6L1420.1 864.2L1420.8 865.3L1421.4 864.9L1422.1 864.8L1422.8 863.4L1423.5 863.7L1424.2 863.9L1424.8 864.4L1425.5 865.4L1426.2 864.7L1426.9 864.3L1427.6 863.6L1428.2 864.0L1428.9 864.1L1429.6 864.4L1430.3 865.1L1431.0 864.1L1431.6 864.6L1432.3 865.7L1433.0 865.1L1433.7 864.3L1434.4 864.3L1435.0 864.1L1435.7 865.0L1436.4 864.9L1437.1 865.5L1437.8 864.4L1438.4 864.4L1439.1 865.0L1439.8 864.2L1440.5 864.4L1441.2 865.4L1441.8 864.2L1442.5 863.9L1443.2 864.4L1443.9 863.9L1444.6 863.8L1445.2 864.3L1445.9 863.4L1446.6 864.5L1447.3 864.2L1448.0 864.4L1448.6 864.4L1449.3 864.4L1450.0 863.4L1450.7 864.3L1451.4 865.1L1452.0 864.3L1452.7 864.0L1453.4 864.4L1454.1 864.4L1454.8 866.2L1455.4 864.7L1456.1 865.0L1456.8 864.3L1457.5 864.3L1458.2 864.2L1458.8 863.7L1459.5 864.4L1460.2 865.3L1460.9 864.7L1461.6 865.3L1462.2 865.5L1462.9 864.5L1463.6 865.3L1464.3 864.8L1465.0 864.0L1465.6 863.9L1466.3 863.4L1467.0 864.1L1467.7 865.2L1468.4 864.9L1469.0 864.8L1469.7 864.5L1470.4 864.2L1471.1 864.4L1471.8 865.5L1472.4 865.5L1473.1 864.5L1473.8 864.4L1474.5 864.5L1475.2 865.4L1475.8 865.1L1476.5 865.1L1477.2 865.1L1477.9 866.0L1478.6 865.2L1479.2 865.9L1479.9 864.7L1480.6 864.6L1481.3 864.1L1482.0 864.6L1482.6 863.8L1483.3 863.9L1484.0 864.9L1484.7 865.0L1485.4 864.8L1486.0 864.8L1486.7 863.2L1487.4 863.2L1488.1 864.3L1488.8 863.7L1489.4 864.6L1490.1 865.4L1490.8 864.3L1491.5 864.7L1492.2 864.2L1492.8 864.5L1493.5 864.3L1494.2 864.9L1494.9 864.5L1495.6 865.0L1496.2 864.2L1496.9 864.5L1497.6 864.6L1498.3 865.0L1499.0 864.3L1499.6 864.0L1500.3 863.5L1501.0 864.1L1501.7 863.9L1502.4 864.0L1503.0 864.3L1503.7 864.4L1504.4 864.0L1505.1 864.5L1505.8 864.0L1506.4 863.8L1507.1 864.5L1507.8 863.5L1508.5 864.6L1509.2 864.4L1509.8 864.5L1510.5 864.2L1511.2 865.0L1511.9 865.2L1512.6 865.9L1513.2 864.8L1513.9 864.5L1514.6 864.4L1515.3 864.5L1516.0 864.6L1516.6 864.9L1517.3 865.6L1518.0 865.2L1518.7 865.1L1519.4 864.9L1520.0 864.9L1520.7 865.3L1521.4 864.8L1522.1 863.8L1522.8 864.4L1523.4 865.5L1524.1 864.9L1524.8 864.8L1525.5 864.3L1526.2 863.8L1526.8 863.9L1527.5 864.5L1528.2 864.7"/>
</g>
<g class="c" stroke="#0000ff">
<path stroke-width="2.0" d="M165.3 737.1L165.8 742.2L166.2 740.8L166.6 733.5L167.1 734.4L167.5 733.0L168.0 738.2L168.4 735.0L168.9 739.9L169.3 728.2L169.8 742.6L170.2 734.1L170.7 736.9L171.1 733.6L171.6 732.4L172.0 736.9L172.5 738.5L172.9 733.6L173.4 733.7L173.8 738.3L174.3 729.9L174.7 727.8L175.2 736.7L175.6 730.9L176.1 727.2L176.5 727.9L177.0 731.8L177.4 730.0L177.9 727.6L178.3 734.4L178.8 737.2L179.2 733.2L179.7 730.1L180.1 736.1L180.6 737.3L181.0 732.7L181.5 736.0L181.9 738.1L182.4 733.2L182.8 729.8L183.3 736.0L183.7 734.8L184.2 737.9L184.6 725.8L185.1 731.5L185.5 730.6L186.0 725.5L186.4 734.3L186.9 735.9L187.3 730.5L187.8 739.4L188.2 736.4L188.7 736.4L189.1 735.9L189.6 738.4L190.0 728.5L190.5 737.9L190.9 737.3L191.4 726.5L191.8 735.1L192.3 731.6L192.7 737.0L193.2 731.6L193.6 733.4L194.1 734.7L194.5 729.3L195.0 736.1L195.4 732.9L195.9 736.2L196.3 731.4L196.8 738.9L197.2 736.5L197.7 732.7L198.1 736.3L198.6 738.7L199.0 740.3L199.5 723.3L199.9 736.7L200.4 736.1L200.8 732.9L201.3 725.0L201.7 737.4L202.2 727.4L202.6 735.5L203.1 740.3L203.5 724.7L204.0 731.2L204.4 724.8L204.9 734.4L205.3 740.2L205.8 741.7L206.2 727.2L206.7 730.9L207.1 738.6L207.6 739.8L208.0 734.5L208.5 729.0L208.9 734.4L209.4 732.8L209.8 731.7L210.3 729.7L210.7 734.3L211.2 734.5L211.6 732.3L212.1 731.8L212.5 724.6L213.0 730.6L213.4 738.0L213.9 732.0L214.3 723.2L214.8 737.6L215.2 734.5L215.7 740.9L216.1 732.9L216.6 731.0L217.0 726.1L217.5 742.8L217.9 749.5L218.4 728.7L218.8 729.8L219.3 734.5L219.7 727.4L220.2 731.2L220.6 730.8L221.1 733.0L221.5 736.9L222.0 732.5L222.4 735.4L222.9 730.7L223.3 734.0L223.8 718.3L224.2 726.1L224.7 736.5L225.1 729.4L225.6 734.8L226.0 734.0L226.5 736.6L226.9 735.2L227.4 735.7L227.8 731.4L228.3 727.6L228.7 728.7L229.2 729.8L229.6 727.6L230.1 729.1L230.5 731.6L231.0 732.8L231.4 730.4L231.9 719.1L232.3 731.4L232.8 733.2L233.2 735.5L233.7 734.9L234.1 728.2L234.6 728.9L235.0 746.2L235.5 736.4L235.9 744.6L236.4 739.1L236.8 728.9L237.3 733.4L237.7 734.5L238.2 735.2L238.6 733.7L239.1 732.7L239.5 732.6L240.0 725.8L240.4 731.0L240.9 729.2L241.3 732.4L241.8 730.2L242.2 734.5L242.7 735.1L243.1 733.1L243.6 732.9L244.0 732.4L244.5 729.5L244.9 730.9L245.4 730.1L245.8 733.6L246.3 731.9L246.7 734.6L247.2 726.8L247.6 735.7L248.1 729.3L248.5 729.1L249.0 731.0L249.4 728.5L249.9 733.3L250.3 728.9L250.8 725.0L251.2 728.7L251.7 736.9L252.1 732.0L252.6 727.0L253.0 731.8L253.5 724.4L253.9 738.7L254.4 722.4L254.8 733.5L255.3 733.6L255.7 726.6L256.2 732.8L256.6 735.0L257.1 734.6L257.5 733.8L258.0 736.8L258.4 732.4L258.9 733.3L259.3 731.1L259.8 734.5L260.2 728.0L260.7 737.9L261.1 729.5L261.6 728.2L262.0 732.9L262.5 737.4L262.9 735.2L263.4 727.8L263.8 734.2L264.3 729.6L264.7 731.2L265.2 732.1L265.6 723.0L266.1 732.4L266.5 726.7L267.0 728.4L267.4 725.7L267.9 724.7L268.3 727.9L268.8 735.3L269.2 738.0L269.7 731.5L270.1 737.1L270.6 730.8L271.0 724.6L271.5 732.5L271.9 733.4L272.4 729.5L272.8 732.8L273.3 734.1L273.7 728.3L274.2 726.1L274.6 730.3L275.1 730.7L275.5 730.1L276.0 735.3L276.4 738.1L276.9 728.1L277.3 734.5L277.8 738.2L278.2 734.7L278.7 738.0L279.1 730.0L279.6 734.0L280.0 741.5L280.5 735.1L280.9 727.5L281.4 733.7L281.8 737.3L282.3 733.5L282.7 728.6L283.2 738.9L283.6 726.8L284.1 733.2L284.5 731.5L285.0 724.1L285.4 735.5L285.9 733.9L286.3 727.7L286.8 733.7L287.2 730.1L287.7 721.4L288.1 728.1L288.6 732.5L289.0 733.7L289.5 732.3L289.9 731.7L290.4 734.6L290.8 730.5L291.3 736.2L291.7 731.8L292.2 732.5L292.6 733.7L293.1 725.8L293.5 728.8L294.0 736.4L294.4 732.1L294.9 729.9L295.3 731.9L295.8 727.1L296.2 732.0L296.7 728.3L297.1 731.8L297.6 721.3L298.0 736.8L298.5 726.8L298.9 724.9L299.4 729.3L299.8 728.7L300.3 730.8L300.7 723.2L301.2 731.4L301.6 741.5L302.1 722.9L302.5 732.0L303.0 728.0L303.4 730.3L303.9 723.7L304.3 721.9L304.8 733.2L305.2 729.3L305.7 735.8L306.1 725.7L306.6 730.0L307.0 739.2L307.5 725.0L307.9 724.7L308.4 728.2L308.8 728.1L309.3 731.3L309.7 728.7L310.2 722.5L310.6 729.1L311.1 736.2L311.5 739.3L312.0 715.2L312.4 726.5L312.9 719.6L313.3 729.9L313.8 726.3L314.2 738.3L314.7 730.2L315.1 729.4L315.6 726.9L316.0 725.9L316.5 727.3L316.9 730.6L317.4 729.4L317.8 725.1L318.3 731.1L318.7 728.3L319.2 726.9L319.6 724.8L320.1 725.3L320.5 724.8L321.0 718.9L321.4 732.4L321.9 732.0L322.3 727.1L322.8 732.6L323.2 731.0L323.7 731.2L324.1 718.4L324.6 727.5L325.0 731.4L325.5 738.3L325.9 739.8L326.4 735.0L326.8 724.2L327.3 721.4L327.7 733.1L328.2 731.2L328.6 735.7L329.1 730.7L329.5 732.1L330.0 726.3L330.4 734.0L330.9 729.5L331.3 732.7L331.8 733.5L332.2 730.9L332.7 732.6L333.1 731.6L333.6 735.1L334.0 733.8L334.5 729.3L334.9 728.9L335.4 740.7L335.8 731.6L336.3 742.1L336.7 733.5L337.2 729.7L337.6 728.3L338.1 732.9L338.5 733.4L339.0 735.5L339.4 728.4L339.9 729.6L340.3 732.2L340.8 737.9L341.2 721.7L341.7 734.4L342.1 730.4L342.6 734.8L343.0 731.4L343.5 734.4L343.9 740.4L344.4 735.1L344.8 735.6L345.3 735.8L345.7 728.6L346.2 735.5L346.6 732.9L347.1 730.2L347.5 733.5L348.0 733.0L348.4 736.2L348.9 733.6L349.3 732.0L349.8 738.7L350.2 738.1L350.7 740.9L351.1 735.9L351.6 733.6L352.0 732.6L352.5 732.7L352.9 739.9L353.4 734.6L353.8 729.4L354.3 733.9L354.7 727.7L355.2 735.1L355.6 730.1L356.1 729.3L356.5 734.8L357.0 733.7L357.4 727.1L357.9 736.9L358.3 741.4L358.8 728.5L359.2 741.0L359.7 729.6L360.1 732.1L360.6 733.6L361.0 726.4L361.5 740.5L361.9 735.8L362.4 731.1L362.8 732.9L363.3 729.2L363.7 732.6L364.2 738.5L364.6 728.3L365.1 731.7L365.5 734.9L366.0 739.5L366.4 742.0L366.9 732.6L367.3 731.4L367.8 736.3L368.2 733.1L368.7 733.3L369.1 739.1L369.6 742.7L370.0 735.9L370.5 733.5L370.9 739.1L371.4 726.1L371.8 734.3L372.3 728.3L372.7 742.2L373.2 738.8L373.6 735.0L374.1 733.7L374.5 718.5L375.0 738.2L375.4 744.0L375.9 731.9L376.3 737.8L376.8 737.1L377.2 726.5L377.7 738.7L378.1 739.2L378.6 736.2L379.0 734.2L379.5 737.6L379.9 722.9L380.4 735.0L380.8 740.8L381.3 730.2L381.7 739.6L382.2 731.8L382.6 720.9L383.1 733.7L383.5 729.3L384.0 735.1L384.4 729.5L384.9 738.1L385.3 731.1L385.8 735.1L386.2 731.2L386.7 732.6L387.1 737.4L387.6 734.8L388.0 731.2L388.5 727.1L388.9 738.7L389.4 736.7L389.8 732.3L390.3 734.4L390.7 728.7L391.2 727.7L391.6 729.7L392.1 736.2L392.5 734.4L393.0 730.0L393.4 737.0L393.9 738.8L394.3 734.1L394.8 736.1L395.2 731.7L395.7 732.3L396.1 734.4L396.6 732.7L397.0 735.1L397.5 727.1L397.9 737.0L398.4 728.8L398.8 731.9L399.3 724.7L399.7 734.9L400.2 739.0L400.6 736.0L401.1 735.1L401.5 727.4L402.0 728.5L402.4 730.8L402.9 726.4L403.3 735.8L403.8 733.4L404.2 731.7L404.7 734.6L405.1 727.3L405.6 728.6L406.0 729.2L406.5 733.1L406.9 733.1L407.4 733.7L407.8 735.8L408.3 726.3L408.7 729.5L409.2 731.7L409.6 726.7L410.1 728.9L410.5 735.4L411.0 733.9L411.4 734.9L411.9 731.0L412.3 729.7L412.8 734.0L413.2 729.0L413.7 731.5L414.1 736.1L414.6 729.0L415.0 727.8L415.5 730.3L415.9 732.8L416.4 731.5L416.8 731.0L417.3 731.6L417.7 722.4L418.2 725.6L418.6 731.0L419.1 725.9L419.5 725.1L420.0 725.4L420.4 725.5L420.9 730.0L421.3 727.8L421.8 731.6L422.2 735.9L422.7 730.4L423.1 738.1L423.6 732.6L424.0 727.4L424.5 730.3L424.9 728.2L425.4 733.5L425.8 728.2L426.3 735.1L426.7 734.4L427.2 725.1L427.6 735.2L428.1 738.0L428.5 728.7L429.0 737.7L429.4 724.0L429.9 733.4L430.3 727.9L430.8 733.7L431.2 725.7L431.7 723.4L432.1 733.5L432.6 743.0L433.0 730.6L433.5 736.6L433.9 733.4L434.4 731.9L434.8 734.6L435.3 737.8L435.7 729.9L436.2 734.9L436.6 734.2L437.1 726.6L437.5 741.3L438.0 739.7L438.4 730.3L438.9 739.3L439.3 733.4L439.8 732.9L440.2 738.6L440.7 734.2L441.1 734.3L441.6 738.3L442.0 738.7L442.5 737.1L442.9 729.9L443.4 728.2L443.8 738.3L444.3 731.2L444.7 734.0L445.2 730.0L445.6 733.2L446.1 728.9L446.5 738.1L447.0 730.8L447.4 733.4L447.9 733.2L448.3 738.7L448.8 729.0L449.2 733.7L449.7 733.0L450.1 736.2L450.6 735.9L451.0 731.5L451.5 734.8L451.9 732.0L452.4 735.1L452.8 733.7L453.3 731.4L453.7 734.0L454.2 735.1L454.6 741.5L455.1 732.1L455.5 735.1L456.0 738.9L456.4 729.3L456.9 730.1L457.3 729.7L457.8 734.1L458.2 739.8L458.7 735.5L459.1 738.2L459.6 733.9L460.0 726.9L460.5 729.1L460.9 738.3L461.4 735.1L461.8 731.5L462.3 737.5L462.7 730.3L463.2 738.7L463.6 738.4L464.1 731.9L464.5 729.2L465.0 737.3L465.4 730.6L465.9 738.0L466.3 730.9L466.8 736.6L467.2 734.7L467.7 733.5L468.1 731.0L468.6 735.4L469.0 727.7L469.5 733.8L469.9 733.5L470.4 737.1L470.8 730.8L471.3 738.5L471.7 733.7L472.2 728.4L472.6 739.8L473.1 740.4L473.5 734.0L474.0 731.3L474.4 734.6L474.9 732.8L475.3 733.8L475.8 738.5L476.2 735.4L476.7 735.3L477.1 735.4L477.6 734.4L478.0 736.5L478.5 736.7L478.9 733.2L479.4 735.0L479.8 741.4L480.3 735.5L480.7 733.9L481.2 741.4L481.6 734.5L482.1 731.6L482.5 736.0L483.0 730.8L483.4 733.1L483.9 735.3L484.3 734.2L484.8 731.6L485.2 733.1L485.7 733.2L486.1 738.0L486.6 731.5L487.0 732.9L487.5 739.9L487.9 733.2L488.4 738.8L488.8 738.7L489.3 734.0L489.7 731.3L490.2 735.8L490.6 736.4L491.1 738.2L491.5 734.7L492.0 737.5L492.4 739.2L492.9 731.7L493.3 738.0L493.8 734.9L494.2 733.2L494.7 733.5L495.1 739.4L495.6 736.7L496.0 730.8L496.5 734.7L496.9 734.0L497.4 734.0L497.8 733.0L498.3 729.8L498.7 737.7L499.2 732.3L499.6 733.1L500.1 733.0L500.5 732.7L501.0 737.1L501.4 735.3L501.9 732.6L502.3 732.4L502.8 733.1L503.2 736.5L503.7 734.7L504.1 734.7L504.6 733.5L505.0 733.6L505.5 734.7L505.9 729.9L506.4 737.8L506.8 730.9L507.3 732.2L507.7 736.8L508.2 734.6L508.6 734.0L509.1 732.5L509.5 729.3L510.0 734.7L510.4 736.5L510.9 731.9L511.3 737.0L511.8 731.4L512.2 731.9L512.7 735.3L513.1 733.6L513.6 735.0L514.0 731.0L514.5 730.9L514.9 729.4L515.4 730.3L515.8 729.1L516.3 728.5L516.7 734.2L517.2 732.0L517.6 725.4L518.1 740.1L518.5 730.7L519.0 730.1L519.4 737.7L519.9 736.1L520.3 728.3L520.8 729.9L521.2 730.4L521.7 737.2L522.1 732.1L522.6 730.2L523.0 732.8L523.5 736.6L523.9 728.3L524.4 731.4L524.8 729.0L525.3 738.0L525.7 736.6L526.2 735.3L526.6 732.4L527.1 734.7L527.5 724.0L528.0 733.3L528.4 728.8L528.9 729.3L529.3 730.5L529.8 731.7L530.2 733.8L530.7 733.9L531.1 732.9L531.6 729.1L532.0 733.8L532.5 732.1L532.9 734.8L533.4 730.1L533.8 725.6L534.3 731.0L534.7 737.6L535.2 733.2L535.6 731.6L536.1 734.4L536.5 733.4L537.0 733.3L537.4 731.0L537.9 732.2L538.3 732.9L538.8 730.3L539.2 729.1L539.7 732.3L540.1 734.2L540.6 734.8L541.0 733.0L541.5 733.4L541.9 738.1L542.4 732.9L542.8 734.9L543.3 735.9L543.7 732.1L544.2 732.8L544.6 734.7L545.1 736.6L545.5 732.6L546.0 732.7L546.4 732.3L546.9 729.1L547.3 734.9L547.8 731.5L548.2 727.2L548.7 731.7L549.1 728.6L549.6 730.2L550.0 732.0L550.5 730.0L550.9 734.0L551.4 729.2L551.8 732.9L552.3 733.1L552.7 738.1L553.2 735.9L553.6 732.5L554.1 732.2L554.5 731.8L555.0 734.7L555.4 730.1L555.9 733.1L556.3 731.8L556.8 732.7L557.2 731.4L557.7 736.4L558.1 730.8L558.6 732.7L559.0 732.8L559.5 734.0L559.9 733.0L560.4 732.9L560.8 734.5L561.3 728.9L561.7 732.1L562.2 728.6L562.6 732.9L563.1 729.5L563.5 729.6L564.0 731.8L564.4 737.3L564.9 733.3L565.3 733.0L565.8 736.1L566.2 728.9L566.7 727.6L567.1 731.5L567.6 731.8L568.0 736.1L568.5 741.5"/>
<path stroke-width="2.2" d="M567.6 731.8L568.0 736.1L568.5 741.5L568.9 729.7L569.4 737.9L569.8 735.4L570.3 735.6L570.7 733.7L571.2 737.6L571.6 733.2L572.0 733.0L574.5 728.0L576.0 700.0L577.3 663.5L578.6 700.0L580.0 722.0L581.5 729.0L582.5 718.0L583.6 712.0L584.7 722.0L585.5 711.0L586.5 705.0L587.5 698.0L588.5 687.5L589.5 703.0L590.5 710.0L591.7 715.5L592.6 708.0L593.4 690.0L594.4 541.0L595.2 630.0L595.7 648.0L596.4 618.0L597.1 638.0L597.8 612.0L598.5 624.0L599.3 590.0L600.2 572.0L601.4 521.5L602.2 560.0L602.8 600.0L603.3 618.0L603.9 624.0L604.4 680.0L605.0 720.0L606.0 750.0L606.8 724.0L607.6 735.0L608.4 741.0L609.5 732.0L610.6 734.0L611.5 737.0L612.5 731.0L613.6 722.0L614.6 714.3L615.6 724.0"/>
<path stroke-width="1.7" d="M615.6 724.0L616.8 730.0L618.0 732.6L618.4 730.6L619.0 730.2L619.7 733.7L620.4 733.8L621.1 733.7L621.8 737.8L622.4 733.8L623.1 734.7L623.8 732.6L624.5 734.1L625.2 736.0L625.8 736.1L626.5 733.7L627.2 734.6L627.9 733.5L628.6 728.8L629.2 726.6L629.9 738.6L630.6 733.0L631.3 730.6L632.0 727.0L632.6 726.0L633.3 731.7L634.0 719.7L634.7 726.7L635.4 728.2L636.0 726.2L636.7 726.7L637.4 724.4L638.1 729.8L638.8 721.5L639.4 719.4L640.1 719.8L640.8 716.1L641.5 712.9L642.2 717.6L642.8 720.2L643.5 720.1L644.2 725.5L644.9 728.5L645.6 728.9L646.2 722.8L646.9 722.6L647.6 722.0L648.3 724.3L649.0 725.9L649.6 726.5L650.3 722.1L651.0 725.9L651.7 725.7L652.4 726.0L653.0 726.1L653.7 725.9L654.4 727.9L655.1 727.3L655.8 727.6L656.4 726.3L657.1 728.7L657.8 727.7L658.5 723.0L659.2 729.5L659.8 728.6L660.5 731.4L661.2 729.4L661.9 729.9L662.6 731.0L663.2 730.7L663.9 729.9L664.6 727.0L665.3 734.8L666.0 728.7L666.6 731.0L667.3 733.4L668.0 732.7L668.7 733.3L669.4 734.3L670.0 735.0L670.7 734.2L671.4 740.3L672.1 731.1L672.8 734.3L673.4 732.7L674.1 732.2L674.8 733.9L675.5 736.7L676.2 731.8L676.8 732.5L677.5 735.5L678.2 734.8L678.9 739.2L679.6 735.4L680.2 734.4L680.9 732.6L681.6 733.9L682.3 732.9L683.0 730.5L683.6 733.3L684.3 732.8L685.0 732.9L685.7 732.6L686.4 737.0L687.0 735.2L687.7 734.7L688.4 731.3L689.1 730.8L689.8 732.9L690.4 734.0L691.1 733.1L691.8 733.4L692.5 735.6L693.2 734.6L693.8 732.1L694.5 732.7L695.2 732.5L695.9 733.6L696.6 730.7L697.2 732.4L697.9 734.1L698.6 732.9L699.3 731.5L700.0 732.3L700.6 733.8L701.3 734.7L702.0 735.9L702.7 733.2L703.4 731.2L704.0 735.6L704.7 733.8L705.4 733.6L706.1 732.7L706.8 729.6L707.4 730.4L708.1 730.8L708.8 731.2L709.5 728.7L710.2 722.2L710.8 726.0L711.5 727.0L712.2 729.7L712.9 726.6L713.6 731.9L714.2 727.8L714.9 725.3L715.6 723.7L716.3 715.1L717.0 722.9L717.6 721.1L718.3 717.1L719.0 719.6L719.7 717.9L720.4 714.0L721.0 715.5L721.7 714.5L722.4 715.2L723.1 713.4L723.8 715.5L724.4 708.1L725.1 712.5L725.8 709.2L726.5 711.5L727.2 713.8L727.8 712.6L728.5 712.1L729.2 710.1L729.9 708.1L730.6 704.5L731.2 709.3L731.9 705.4L732.6 710.7L733.3 712.6L734.0 710.3L734.6 712.8L735.3 714.1L736.0 707.0L736.7 712.0L737.4 711.2L738.0 706.1L738.7 712.3L739.4 711.2L740.1 717.7L740.8 711.3L741.4 718.0L742.1 712.0L742.8 717.7L743.5 715.0L744.2 714.3L744.8 714.9L745.5 715.1L746.2 717.4L746.9 717.9L747.6 712.9L748.2 709.0L748.9 705.5L749.6 712.7L750.3 711.6L751.0 709.5L751.6 713.6L752.3 717.0L753.0 718.2L753.7 721.7L754.4 725.9L755.0 722.4L755.7 731.4L756.4 728.8L757.1 731.9L757.8 731.4L758.4 732.2L759.1 731.7L759.8 731.3L760.5 733.8L761.2 732.9L761.8 738.6L762.5 733.5L763.2 733.5L763.9 733.3L764.6 732.6L765.2 729.5L765.9 733.9L766.6 734.9L767.3 731.6L768.0 734.5L768.6 732.5L769.3 734.7L770.0 735.6L770.7 736.2L771.4 736.1L772.0 734.5L772.7 736.8L773.4 734.2L774.1 735.9L774.8 736.2L775.4 734.9L776.1 733.8L776.8 736.8L777.5 732.8L778.2 733.6L778.8 731.9L779.5 736.3L780.2 734.4L780.9 731.4L781.6 736.1L782.2 738.3L782.9 737.7L783.6 734.0L784.3 735.0L785.0 735.8L785.6 736.0L786.3 734.8L787.0 732.8L787.7 737.6L788.4 735.9L789.0 732.7L789.7 734.6L790.4 735.6L791.1 735.1L791.8 736.2L792.4 736.2L793.1 735.8L793.8 734.8L794.5 732.0L795.2 736.1L795.8 738.8L796.5 737.5L797.2 734.9L797.9 734.8L798.6 737.2L799.2 737.5L799.9 735.7L800.6 736.2L801.3 733.2L802.0 736.5L802.6 734.0L803.3 734.6L804.0 734.6L804.7 733.9L805.4 730.7L806.0 733.6L806.7 735.5L807.4 734.7L808.1 734.0L808.8 735.7L809.4 735.7L810.1 735.8L810.8 733.5L811.5 734.8L812.2 734.3L812.8 732.5L813.5 732.5L814.2 734.7L814.9 733.5L815.6 737.6L816.2 734.6L816.9 734.3L817.6 734.1L818.3 737.1L819.0 733.4L819.6 734.5L820.3 733.6L821.0 734.7L821.7 734.9L822.4 737.1L823.0 733.2L823.7 735.6L824.4 738.5L825.1 734.1L825.8 734.7L826.4 732.7L827.1 727.0L827.8 735.0L828.5 736.7L829.2 732.4L829.8 728.1L830.5 730.4L831.2 728.8L831.9 729.6L832.6 723.7L833.2 717.4L833.9 715.8L834.6 719.7L835.3 728.8L836.0 729.0L836.6 730.9L837.3 731.6L838.0 730.4L838.7 731.2L839.4 729.9L840.0 729.8L840.7 733.7L841.4 734.8L842.1 732.8L842.8 736.2L843.4 734.8L844.1 735.5L844.8 733.9L845.5 731.7L846.2 736.3L846.8 736.0L847.5 734.9L848.2 734.3L848.9 734.6L849.6 734.9L850.2 734.2L850.9 730.4L851.6 736.1L852.3 731.8L853.0 734.2L853.6 734.1L854.3 734.9L855.0 730.9L855.7 737.2L856.4 735.6L857.0 736.6L857.7 737.4L858.4 733.8L859.1 731.1L859.8 735.6L860.4 737.5L861.1 736.8L861.8 734.4L862.5 735.0L863.2 735.6L863.8 732.0L864.5 734.2L865.2 734.4L865.9 738.4L866.6 734.4L867.2 738.9L867.9 735.5L868.6 732.5L869.3 739.4L870.0 733.2L870.6 736.4L871.3 737.2L872.0 734.4L872.7 733.6L873.4 737.9L874.0 735.4L874.7 733.1L875.4 733.1L876.1 734.0L876.8 736.1L877.4 734.4L878.1 736.0L878.8 737.5L879.5 737.5L880.2 736.6L880.8 737.5L881.5 731.9L882.2 737.3L882.9 735.6L883.6 735.0L884.2 733.0L884.9 731.6L885.6 733.3L886.3 735.2L887.0 733.6L887.6 734.0L888.3 734.4L889.0 736.4L889.7 734.8L890.4 735.1L891.0 737.6L891.7 734.5L892.4 736.6L893.1 732.6L893.8 735.5L894.4 735.3L895.1 735.4L895.8 734.1L896.5 733.1L897.2 734.9L897.8 734.6L898.5 736.7L899.2 736.5L899.9 733.6L900.6 736.5L901.2 734.3L901.9 735.5L902.6 733.9L903.3 732.6L904.0 736.1L904.6 735.6L905.3 732.8L906.0 732.0L906.7 734.4L907.4 733.2L908.0 734.1L908.7 735.5L909.4 737.0L910.1 734.2L910.8 737.3L911.4 737.0L912.1 734.2L912.8 731.9L913.5 736.4L914.2 736.1L914.8 741.5L915.5 736.7L916.2 736.2L916.9 737.3L917.6 732.8L918.2 734.9L918.9 734.1L919.6 737.9L920.3 735.7L921.0 730.1L921.6 737.4L922.3 733.8L923.0 736.2L923.7 734.5L924.4 735.4L925.0 736.1L925.7 735.2L926.4 733.1L927.1 736.5L927.8 736.0L928.4 734.8L929.1 736.1L929.8 734.4L930.5 737.6L931.2 735.3L931.8 735.5L932.5 735.5L933.2 733.9L933.9 733.1L934.6 735.4L935.2 734.9L935.9 736.0L936.6 734.8L937.3 732.0L938.0 735.5L938.6 736.4L939.3 736.0L940.0 735.2L940.7 732.8L941.4 736.7L942.0 733.2L942.7 736.3L943.4 731.4L944.1 736.7L944.8 734.4L945.4 738.7L946.1 738.6L946.8 737.5L947.5 734.1L948.2 733.4L948.8 733.3L949.5 735.5L950.2 735.4L950.9 734.9L951.6 735.2L952.2 735.8L952.9 736.2L953.6 737.5L954.3 735.5L955.0 735.8L955.6 732.7L956.3 732.5L957.0 734.1L957.7 733.4L958.4 735.5L959.0 737.6L959.7 734.1L960.4 734.0L961.1 733.9L961.8 734.8L962.4 734.0L963.1 735.8L963.8 735.5L964.5 735.6L965.2 737.1L965.8 735.4L966.5 735.4L967.2 738.8L967.9 734.7L968.6 736.7L969.2 735.3L969.9 734.9L970.6 735.2L971.3 734.1L972.0 735.6L972.6 734.3L973.3 734.4L974.0 736.9L974.7 734.6L975.4 736.4L976.0 735.3L976.7 736.9L977.4 734.2L978.1 735.5L978.8 738.2L979.4 736.8L980.1 736.5L980.8 735.5L981.5 736.5L982.2 733.3L982.8 732.5L983.5 735.3L984.2 736.9L984.9 734.6L985.6 735.2L986.2 735.0L986.9 735.0L987.6 733.4L988.3 733.5L989.0 734.8L989.6 729.4L990.3 733.0L991.0 733.4L991.7 733.1L992.4 735.1L993.0 734.0L993.7 734.8L994.4 733.6L995.1 733.3L995.8 735.5L996.4 735.3L997.1 734.2L997.8 735.7L998.5 735.2L999.2 735.1L999.8 736.9L1000.5 734.7L1001.2 736.1L1001.9 736.1L1002.6 735.0L1003.2 733.1L1003.9 736.5L1004.6 735.9L1005.3 735.4L1006.0 735.2L1006.6 735.0L1007.3 733.5L1008.0 735.1L1008.7 730.4L1009.4 734.6L1010.0 732.2L1010.7 734.5L1011.4 735.8L1012.1 734.3L1012.8 733.4L1013.4 735.3L1014.1 734.4L1014.8 734.0L1015.5 734.5L1016.2 738.6L1016.8 735.9L1017.5 735.6L1018.2 732.4L1018.9 736.0L1019.6 733.2L1020.2 735.6L1020.9 732.5L1021.6 739.1L1022.3 732.6L1023.0 736.8L1023.6 736.2L1024.3 731.8L1025.0 734.4L1025.7 737.3L1026.4 736.6L1027.0 733.1L1027.7 734.6L1028.4 733.2L1029.1 734.1L1029.8 734.3L1030.4 737.1L1031.1 734.7L1031.8 733.8L1032.5 733.6L1033.2 735.6L1033.8 735.5L1034.5 733.3L1035.2 737.1L1035.9 733.4L1036.6 733.8L1037.2 734.9L1037.9 736.0L1038.6 732.3L1039.3 732.9L1040.0 734.0L1040.6 733.6L1041.3 734.7L1042.0 733.0L1042.7 731.6L1043.4 731.9L1044.0 731.5L1044.7 729.6L1045.4 732.5L1046.1 724.0L1046.8 726.4L1047.4 731.2L1048.1 728.6L1048.8 726.5L1049.5 728.1L1050.2 729.0L1050.8 725.7L1051.5 727.6L1052.2 725.6L1052.9 725.2L1053.6 725.2L1054.2 727.9L1054.9 723.2L1055.6 724.3L1056.3 727.1L1057.0 721.4L1057.6 721.0L1058.3 724.8L1059.0 723.4L1059.7 722.4L1060.4 722.8L1061.0 720.4L1061.7 722.1L1062.4 715.4L1063.1 715.9L1063.8 717.5L1064.4 720.2L1065.1 724.1L1065.8 721.9L1066.5 723.7L1067.2 721.2L1067.8 724.9L1068.5 722.1L1069.2 718.6L1069.9 723.3L1070.6 720.7L1071.2 722.8L1071.9 721.6L1072.6 721.8L1073.3 721.4L1074.0 719.3L1074.6 718.8L1075.3 723.6L1076.0 720.7L1076.7 721.6L1077.4 719.6L1078.0 717.6L1078.7 719.0L1079.4 723.7L1080.1 719.9L1080.8 720.3L1081.4 716.9L1082.1 720.2L1082.8 720.6L1083.5 720.7L1084.2 721.1L1084.8 719.3L1085.5 719.2L1086.2 720.9L1086.9 721.9L1087.6 720.9L1088.2 725.5L1088.9 721.5L1089.6 721.2L1090.3 718.8L1091.0 723.3L1091.6 718.8L1092.5 718.0L1093.2 712.0L1094.2 705.0L1095.0 695.0L1095.8 686.0L1096.8 683.0L1097.6 696.0L1098.4 711.0L1099.2 690.0L1100.0 698.0L1100.8 704.0L1101.6 693.0L1102.3 699.0L1103.0 687.0L1103.8 690.0L1104.6 680.0L1105.4 692.0L1106.0 705.0L1106.6 716.0L1107.4 728.0L1108.2 736.0L1109.0 737.5L1109.3 736.0L1110.0 734.1L1110.7 736.2L1111.4 734.7L1112.0 735.7L1112.7 735.7L1113.4 735.0L1114.1 736.2L1114.8 737.5L1115.4 739.2L1116.1 734.1L1116.8 735.6L1117.5 734.8L1118.2 732.9L1118.8 735.4L1119.5 733.6L1120.2 735.6L1120.9 737.7L1121.6 732.2L1122.2 736.5L1122.9 737.2L1123.6 735.0L1124.3 737.0L1125.0 736.4L1125.6 735.0L1126.3 736.6L1127.0 733.5L1127.7 735.8L1128.4 734.9L1129.0 734.0L1129.7 735.3L1130.4 734.9L1131.1 736.7L1131.8 734.1L1132.4 735.2L1133.1 734.8L1133.8 737.1L1134.5 732.7L1135.2 736.8L1135.8 732.3L1136.5 735.7L1137.2 735.0L1137.9 735.7L1138.6 734.2L1139.2 732.1L1139.9 731.8L1140.6 737.8L1141.3 735.8L1142.0 734.4L1142.6 736.9L1143.3 734.2L1144.0 734.3L1144.7 733.6L1145.4 736.8L1146.0 738.0L1146.7 733.8L1147.4 736.2L1148.1 736.9L1148.8 739.2L1149.4 731.2L1150.1 735.8L1150.8 737.0L1151.5 733.4L1152.2 736.2L1152.8 735.4L1153.5 736.0L1154.2 733.8L1154.9 735.5L1155.6 734.0L1156.2 736.3L1156.9 735.6L1157.6 734.9L1158.3 733.8L1159.0 737.0L1159.6 736.5L1160.3 736.4L1161.0 733.8L1161.7 734.2L1162.4 736.4L1163.0 736.0L1163.7 734.7L1164.4 736.1L1165.1 736.3L1165.8 735.7L1166.4 734.1L1167.1 737.1L1167.8 735.7L1168.5 734.5L1169.2 732.3L1169.8 733.9L1170.5 734.7L1171.2 736.6L1171.9 734.5L1172.6 736.0L1173.2 735.1L1173.9 733.9L1174.6 731.2L1175.3 734.0L1176.0 732.8L1176.6 735.1L1177.3 735.5L1178.0 737.3L1178.7 734.9L1179.4 733.3L1180.0 737.4L1180.7 735.2L1181.4 734.2L1182.1 734.1L1182.8 732.7L1183.4 735.2L1184.1 735.3L1184.8 736.5L1185.5 737.3L1186.2 736.3L1186.8 736.6L1187.5 734.7L1188.2 735.0L1188.9 735.2L1189.6 733.9L1190.2 734.4L1190.9 733.8L1191.6 735.0L1192.3 733.6L1193.0 731.0L1193.6 732.8L1194.3 734.1L1195.0 729.3L1195.7 731.3L1196.4 732.2L1197.0 730.3L1197.7 732.0L1198.4 733.0L1199.1 730.5L1199.8 728.2L1200.4 725.8L1201.1 728.6L1201.8 733.5L1202.5 734.6L1203.2 733.5L1203.8 734.5L1204.5 735.8L1205.2 734.4L1205.9 735.8L1206.6 735.1L1207.2 733.0L1207.9 734.3L1208.6 735.4L1209.3 735.7L1210.0 734.1L1210.6 735.7L1211.3 736.4L1212.0 735.2L1212.7 735.5L1213.4 735.7L1214.0 733.8L1214.7 734.6L1215.4 733.4L1216.1 735.0L1216.8 733.9L1217.4 733.6L1218.1 734.2L1218.8 734.3L1219.5 735.2L1220.2 735.5L1220.8 734.3L1221.5 735.0L1222.2 736.2L1222.9 736.0L1223.6 735.5L1224.2 738.9L1224.9 737.7L1225.6 735.5L1226.3 736.2L1227.0 736.8L1227.6 735.1L1228.3 732.9L1229.0 734.7L1229.7 734.6L1230.4 736.3L1231.0 733.3L1231.7 737.2L1232.4 735.5L1233.1 737.5L1233.8 735.7L1234.4 736.6L1235.1 737.2L1235.8 736.3L1236.5 737.5L1237.2 736.0L1237.8 735.4L1238.5 735.8L1239.2 735.2L1239.9 735.7L1240.6 737.0L1241.2 734.7L1241.9 733.0L1242.6 735.1L1243.3 736.0L1244.0 735.1L1244.6 735.4L1245.3 735.8L1246.0 733.6L1246.7 735.1L1247.4 732.7L1248.0 733.4L1248.7 734.7L1249.4 732.4L1250.1 733.0L1250.8 733.6L1251.4 736.3L1252.1 737.3L1252.8 739.1L1253.5 737.2L1254.2 733.7L1254.8 731.4L1255.5 734.6L1256.2 735.5L1256.9 733.5L1257.6 734.9L1258.2 734.8L1258.9 735.0L1259.6 734.6L1260.3 735.4L1261.0 736.4L1261.6 735.9L1262.3 736.7L1263.0 737.5L1263.7 734.3L1264.4 733.8L1265.0 735.4L1265.7 736.4L1266.4 734.6L1267.1 735.7L1267.8 734.6L1268.4 736.0L1269.1 735.0L1269.8 736.2L1270.5 735.5L1271.2 735.2L1271.8 736.4L1272.5 735.7L1273.2 734.4L1273.9 736.3L1274.6 732.9L1275.2 737.0L1275.9 738.9L1276.6 737.1L1277.3 736.9L1278.0 736.4L1278.6 737.4L1279.3 735.5L1280.0 736.7L1280.7 736.1L1281.4 735.7L1282.0 735.8L1282.7 735.2L1283.4 733.1L1284.1 737.9L1284.8 735.7L1285.4 734.2L1286.1 736.2L1286.8 734.2L1287.5 734.0L1288.2 734.2L1288.8 732.5L1289.5 730.0L1290.2 734.2L1290.9 734.9L1291.6 735.4L1292.2 733.8L1292.9 734.1L1293.6 735.0L1294.3 734.6L1295.0 735.2L1295.6 735.9L1296.3 734.7L1297.0 736.9L1297.7 734.2L1298.4 734.9L1299.0 734.3L1299.7 734.0L1300.4 735.5L1301.1 735.8L1301.8 736.8L1302.4 735.6L1303.1 734.5L1303.8 735.5L1304.5 732.9L1305.2 733.9L1305.8 735.1L1306.5 734.5L1307.2 733.3L1307.9 732.9L1308.6 735.4L1309.2 733.2L1309.9 732.6L1310.6 733.3L1311.3 735.3L1312.0 737.2L1312.6 735.6L1313.3 737.6L1314.0 735.3L1314.7 735.4L1315.4 735.7L1316.0 734.0L1316.7 734.6L1317.4 734.0L1318.1 733.8L1318.8 735.3L1319.4 733.8L1320.1 734.7L1320.8 734.4L1321.5 735.2L1322.2 734.7L1322.8 735.9L1323.5 734.5L1324.2 734.2L1324.9 735.7L1325.6 731.4L1326.2 734.0L1326.9 732.9L1327.6 735.6L1328.3 735.9L1329.0 735.5L1329.6 735.3L1330.3 734.1L1331.0 736.3L1331.7 735.3L1332.4 734.7L1333.0 733.7L1333.7 735.9L1334.4 734.8L1335.1 734.9L1335.8 735.4L1336.4 735.2L1337.1 733.8L1337.8 735.7L1338.5 733.5L1339.2 734.1L1339.8 736.1L1340.5 736.4L1341.2 736.1L1341.9 735.3L1342.6 735.3L1343.2 734.3L1343.9 733.2L1344.6 735.7L1345.3 734.4L1346.0 735.3L1346.6 736.5L1347.3 735.4L1348.0 738.1L1348.7 733.0L1349.4 733.8L1350.0 734.4L1350.7 735.5L1351.4 733.9L1352.1 732.7L1352.8 735.4L1353.4 732.8L1354.1 733.7L1354.8 734.9L1355.5 733.9L1356.2 734.7L1356.8 735.7L1357.5 734.6L1358.2 734.6L1358.9 733.3L1359.6 734.2L1360.2 732.9L1360.9 733.3L1361.6 735.8L1362.3 735.0L1363.0 736.2L1363.6 733.0L1364.3 734.5L1365.0 734.2L1365.7 732.8L1366.4 735.7L1367.0 735.3L1367.7 736.2L1368.4 735.1L1369.1 736.9L1369.8 736.3L1370.4 735.6L1371.1 733.7L1371.8 733.8L1372.5 735.0L1373.2 734.0L1373.8 734.8L1374.5 735.3L1375.2 734.0L1375.9 736.8L1376.6 733.1L1377.2 735.5L1377.9 735.1L1378.6 733.2L1379.3 736.1L1380.0 736.2L1380.6 735.7L1381.3 734.8L1382.0 735.8L1382.7 736.1L1383.4 735.3L1384.0 736.6L1384.7 736.3L1385.4 736.5L1386.1 737.5L1386.8 734.9L1387.4 734.5L1388.1 735.3L1388.8 735.1L1389.5 735.5L1390.2 735.6L1390.8 734.8L1391.5 734.8L1392.2 734.3L1392.9 734.2L1393.6 734.4L1394.2 735.5L1394.9 734.7L1395.6 734.7L1396.3 735.1L1397.0 734.3L1397.6 734.3L1398.3 731.7L1399.0 735.5L1399.7 735.3L1400.4 736.0L1401.0 736.0L1401.7 733.0L1402.4 738.0L1403.1 736.0L1403.8 736.2L1404.4 734.5L1405.1 736.6L1405.8 736.3L1406.5 735.0L1407.2 735.2L1407.8 736.6L1408.5 735.1L1409.2 734.7L1409.9 737.2L1410.6 736.3L1411.2 735.4L1411.9 738.1L1412.6 735.1L1413.3 734.6L1414.0 735.0L1414.6 734.0L1415.3 734.8L1416.0 734.9L1416.7 734.1L1417.4 734.4L1418.0 735.2L1418.7 735.1L1419.4 735.1L1420.1 735.8L1420.8 735.3L1421.4 735.8L1422.1 734.9L1422.8 734.8L1423.5 735.4L1424.2 732.9L1424.8 734.8L1425.5 737.1L1426.2 732.7L1426.9 736.6L1427.6 733.6L1428.2 735.6L1428.9 736.8L1429.6 735.9L1430.3 734.2L1431.0 734.4L1431.6 734.1L1432.3 736.2L1433.0 734.6L1433.7 734.6L1434.4 734.4L1435.0 734.3L1435.7 734.5L1436.4 734.5L1437.1 733.4L1437.8 736.2L1438.4 732.9L1439.1 736.9L1439.8 735.2L1440.5 735.3L1441.2 734.8L1441.8 734.7L1442.5 735.5L1443.2 735.4L1443.9 734.4L1444.6 735.7L1445.2 734.3L1445.9 735.5L1446.6 734.7L1447.3 734.5L1448.0 735.8L1448.6 736.2L1449.3 734.7L1450.0 734.9L1450.7 735.8L1451.4 733.7L1452.0 734.2L1452.7 735.6L1453.4 734.2L1454.1 732.6L1454.8 733.2L1455.4 734.1L1456.1 734.0L1456.8 734.1L1457.5 734.5L1458.2 733.3L1458.8 735.7L1459.5 736.0L1460.2 734.2L1460.9 735.9L1461.6 734.9L1462.2 735.4L1462.9 735.8L1463.6 733.8L1464.3 735.8L1465.0 733.7L1465.6 734.4L1466.3 734.1L1467.0 734.5L1467.7 734.4L1468.4 734.2L1469.0 735.7L1469.7 735.1L1470.4 734.8L1471.1 732.9L1471.8 734.5L1472.4 734.2L1473.1 733.6L1473.8 733.7L1474.5 735.3L1475.2 735.7L1475.8 736.5L1476.5 735.3L1477.2 733.6L1477.9 734.7L1478.6 733.2L1479.2 735.6L1479.9 734.5L1480.6 733.8L1481.3 734.0L1482.0 734.1L1482.6 734.0L1483.3 735.9L1484.0 740.9L1484.7 736.7L1485.4 737.4L1486.0 736.2L1486.7 735.1L1487.4 738.0L1488.1 734.6L1488.8 735.5L1489.4 735.3L1490.1 736.1L1490.8 735.6L1491.5 735.6L1492.2 733.3L1492.8 734.1L1493.5 735.5L1494.2 734.5L1494.9 735.3L1495.6 736.8L1496.2 735.8L1496.9 735.6L1497.6 732.6L1498.3 734.8L1499.0 733.0L1499.6 733.2L1500.3 734.5L1501.0 735.0L1501.7 732.4L1502.4 733.3L1503.0 734.6L1503.7 735.7L1504.4 735.2L1505.1 738.0L1505.8 736.7L1506.4 735.4L1507.1 734.6L1507.8 736.8L1508.5 737.5L1509.2 735.5L1509.8 736.1L1510.5 736.5L1511.2 733.5L1511.9 734.2L1512.6 736.0L1513.2 734.6L1513.9 734.8L1514.6 734.1L1515.3 734.3L1516.0 735.4L1516.6 734.5L1517.3 733.9L1518.0 734.5L1518.7 735.8L1519.4 734.6L1520.0 733.9L1520.7 734.5L1521.4 734.7L1522.1 734.1L1522.8 732.3L1523.4 733.4L1524.1 733.0L1524.8 734.5L1525.5 733.7L1526.2 735.9L1526.8 735.1L1527.5 733.2L1528.2 736.3"/>
</g>
<g class="c" stroke="#000000">
<path stroke-width="2.0" d="M165.3 992.0L165.8 988.1L166.2 992.7L166.6 990.1L167.1 981.1L167.5 993.6L168.0 989.5L168.4 992.2L168.9 997.6L169.3 990.7L169.8 983.9L170.2 985.7L170.7 994.3L171.1 981.4L171.6 991.0L172.0 991.6L172.5 984.9L172.9 990.3L173.4 992.1L173.8 986.1L174.3 987.3L174.7 991.4L175.2 981.1L175.6 985.8L176.1 993.2L176.5 989.8L177.0 981.3L177.4 989.2L177.9 997.7L178.3 980.3L178.8 993.1L179.2 995.5L179.7 988.3L180.1 991.7L180.6 986.8L181.0 995.8L181.5 994.1L181.9 985.5L182.4 987.6L182.8 989.2L183.3 986.3L183.7 990.2L184.2 984.4L184.6 990.9L185.1 987.5L185.5 988.4L186.0 991.0L186.4 991.6L186.9 984.9L187.3 992.6L187.8 991.2L188.2 987.8L188.7 997.5L189.1 984.9L189.6 985.2L190.0 989.8L190.5 985.7L190.9 995.9L191.4 988.8L191.8 994.1L192.3 983.1L192.7 983.1L193.2 993.9L193.6 984.2L194.1 991.2L194.5 984.7L195.0 989.4L195.4 992.7L195.9 987.4L196.3 980.4L196.8 986.2L197.2 993.5L197.7 988.3L198.1 990.1L198.6 988.1L199.0 988.5L199.5 986.7L199.9 981.8L200.4 989.8L200.8 988.6L201.3 980.8L201.7 987.5L202.2 990.6L202.6 994.1L203.1 982.8L203.5 987.7L204.0 989.4L204.4 990.6L204.9 984.9L205.3 989.1L205.8 985.8L206.2 986.9L206.7 985.4L207.1 988.3L207.6 985.1L208.0 988.9L208.5 986.8L208.9 990.1L209.4 993.5L209.8 986.8L210.3 983.6L210.7 985.9L211.2 983.2L211.6 981.6L212.1 987.0L212.5 985.0L213.0 990.8L213.4 986.4L213.9 990.2L214.3 990.9L214.8 983.7L215.2 985.6L215.7 984.9L216.1 985.1L216.6 989.2L217.0 984.9L217.5 984.5L217.9 983.5L218.4 993.9L218.8 985.4L219.3 985.9L219.7 983.9L220.2 987.2L220.6 982.1L221.1 982.9L221.5 978.0L222.0 979.9L222.4 987.1L222.9 990.6L223.3 981.1L223.8 987.1L224.2 987.1L224.7 998.6L225.1 978.8L225.6 984.1L226.0 982.0L226.5 989.9L226.9 991.0L227.4 984.5L227.8 993.2L228.3 995.5L228.7 983.8L229.2 987.8L229.6 984.7L230.1 980.8L230.5 984.3L231.0 984.9L231.4 976.0L231.9 985.7L232.3 988.8L232.8 982.6L233.2 983.8L233.7 982.7L234.1 987.5L234.6 985.6L235.0 989.2L235.5 984.8L235.9 978.9L236.4 988.8L236.8 985.2L237.3 990.7L237.7 989.9L238.2 975.4L238.6 978.3L239.1 986.6L239.5 983.4L240.0 975.1L240.4 984.7L240.9 991.0L241.3 989.0L241.8 980.3L242.2 987.7L242.7 990.2L243.1 985.9L243.6 992.4L244.0 983.9L244.5 993.1L244.9 993.9L245.4 988.6L245.8 987.7L246.3 986.9L246.7 982.8L247.2 991.7L247.6 992.2L248.1 991.2L248.5 987.8L249.0 987.3L249.4 983.7L249.9 983.9L250.3 980.1L250.8 988.5L251.2 983.0L251.7 989.8L252.1 985.1L252.6 994.7L253.0 992.5L253.5 992.5L253.9 992.6L254.4 985.6L254.8 985.7L255.3 985.0L255.7 988.4L256.2 995.5L256.6 982.7L257.1 995.2L257.5 985.0L258.0 978.9L258.4 989.3L258.9 992.0L259.3 985.6L259.8 984.0L260.2 994.3L260.7 982.8L261.1 991.5L261.6 988.2L262.0 986.4L262.5 987.8L262.9 982.6L263.4 983.9L263.8 989.0L264.3 984.4L264.7 984.8L265.2 992.2L265.6 997.0L266.1 991.7L266.5 992.6L267.0 986.8L267.4 988.2L267.9 985.6L268.3 979.3L268.8 990.3L269.2 996.4L269.7 1003.3L270.1 1004.3L270.6 1001.1L271.0 990.3L271.5 982.4L271.9 987.2L272.4 991.0L272.8 988.1L273.3 990.1L273.7 985.3L274.2 989.8L274.6 991.3L275.1 983.9L275.5 990.2L276.0 982.5L276.4 989.3L276.9 983.8L277.3 990.2L277.8 988.3L278.2 985.0L278.7 989.5L279.1 983.7L279.6 988.8L280.0 983.3L280.5 990.9L280.9 985.0L281.4 994.7L281.8 991.3L282.3 990.5L282.7 983.3L283.2 978.9L283.6 985.2L284.1 994.3L284.5 983.6L285.0 993.1L285.4 994.9L285.9 986.8L286.3 988.2L286.8 995.8L287.2 988.1L287.7 986.5L288.1 987.1L288.6 989.2L289.0 988.4L289.5 994.0L289.9 989.7L290.4 992.6L290.8 988.4L291.3 998.4L291.7 988.1L292.2 988.0L292.6 986.0L293.1 982.9L293.5 983.2L294.0 989.0L294.4 983.5L294.9 991.9L295.3 980.8L295.8 980.3L296.2 989.0L296.7 989.2L297.1 981.0L297.6 991.2L298.0 992.1L298.5 989.0L298.9 981.5L299.4 991.6L299.8 980.9L300.3 977.5L300.7 978.6L301.2 980.3L301.6 990.1L302.1 983.3L302.5 990.5L303.0 990.5L303.4 992.6L303.9 988.3L304.3 990.4L304.8 984.7L305.2 985.5L305.7 983.2L306.1 990.6L306.6 983.2L307.0 992.1L307.5 985.6L307.9 979.1L308.4 983.6L308.8 989.1L309.3 983.1L309.7 988.6L310.2 977.3L310.6 987.5L311.1 987.8L311.5 987.2L312.0 990.7L312.4 979.5L312.9 979.1L313.3 981.0L313.8 989.3L314.2 986.0L314.7 983.0L315.1 976.6L315.6 976.1L316.0 976.6L316.5 983.6L316.9 979.5L317.4 982.9L317.8 987.7L318.3 990.4L318.7 984.8L319.2 984.3L319.6 993.0L320.1 989.4L320.5 983.1L321.0 987.7L321.4 985.3L321.9 989.2L322.3 987.9L322.8 988.5L323.2 986.9L323.7 985.1L324.1 991.8L324.6 989.5L325.0 978.5L325.5 985.9L325.9 988.4L326.4 985.0L326.8 984.7L327.3 985.7L327.7 990.2L328.2 982.5L328.6 989.9L329.1 996.4L329.5 991.5L330.0 991.9L330.4 987.7L330.9 993.9L331.3 988.8L331.8 991.1L332.2 985.0L332.7 994.4L333.1 986.9L333.6 988.9L334.0 992.0L334.5 989.1L334.9 986.9L335.4 988.3L335.8 992.5L336.3 994.6L336.7 990.9L337.2 987.2L337.6 987.6L338.1 992.4L338.5 993.4L339.0 986.2L339.4 986.9L339.9 992.2L340.3 992.7L340.8 990.0L341.2 983.5L341.7 995.5L342.1 989.6L342.6 990.9L343.0 978.4L343.5 986.8L343.9 989.0L344.4 991.3L344.8 987.1L345.3 984.0L345.7 982.5L346.2 988.6L346.6 990.8L347.1 991.0L347.5 980.7L348.0 986.0L348.4 989.5L348.9 993.3L349.3 991.8L349.8 991.3L350.2 984.9L350.7 995.3L351.1 989.5L351.6 990.8L352.0 985.2L352.5 989.2L352.9 988.5L353.4 987.7L353.8 986.1L354.3 992.3L354.7 992.6L355.2 988.2L355.6 986.3L356.1 986.6L356.5 988.9L357.0 994.7L357.4 989.5L357.9 996.8L358.3 983.7L358.8 985.7L359.2 985.3L359.7 986.2L360.1 991.0L360.6 999.2L361.0 987.7L361.5 991.2L361.9 994.0L362.4 999.1L362.8 991.0L363.3 992.8L363.7 994.7L364.2 990.5L364.6 991.9L365.1 988.7L365.5 987.4L366.0 988.2L366.4 994.5L366.9 994.2L367.3 991.8L367.8 986.5L368.2 994.7L368.7 990.3L369.1 996.0L369.6 990.7L370.0 984.0L370.5 989.2L370.9 987.9L371.4 999.7L371.8 982.8L372.3 988.2L372.7 989.1L373.2 983.9L373.6 991.5L374.1 992.2L374.5 996.1L375.0 993.8L375.4 990.1L375.9 995.0L376.3 988.7L376.8 990.5L377.2 991.2L377.7 990.6L378.1 992.4L378.6 988.0L379.0 989.7L379.5 988.3L379.9 990.7L380.4 992.4L380.8 987.5L381.3 997.6L381.7 996.1L382.2 993.2L382.6 990.8L383.1 988.0L383.5 989.7L384.0 989.8L384.4 993.3L384.9 990.4L385.3 993.3L385.8 992.4L386.2 988.4L386.7 986.4L387.1 984.9L387.6 985.0L388.0 990.4L388.5 996.7L388.9 988.1L389.4 993.5L389.8 989.9L390.3 994.3L390.7 1000.4L391.2 995.2L391.6 991.9L392.1 992.1L392.5 996.6L393.0 989.5L393.4 986.3L393.9 991.7L394.3 995.1L394.8 988.8L395.2 995.8L395.7 995.1L396.1 989.7L396.6 987.7L397.0 984.0L397.5 986.5L397.9 991.2L398.4 992.6L398.8 988.6L399.3 988.7L399.7 988.6L400.2 999.3L400.6 984.3L401.1 985.9L401.5 995.9L402.0 985.9L402.4 994.0L402.9 986.4L403.3 995.1L403.8 996.0L404.2 989.3L404.7 990.4L405.1 986.8L405.6 994.7L406.0 989.6L406.5 986.9L406.9 991.7L407.4 991.9L407.8 990.3L408.3 988.7L408.7 995.6L409.2 988.1L409.6 987.1L410.1 989.6L410.5 991.9L411.0 989.4L411.4 988.6L411.9 987.8L412.3 987.8L412.8 988.5L413.2 995.5L413.7 983.9L414.1 988.5L414.6 990.5L415.0 984.9L415.5 986.6L415.9 992.2L416.4 996.7L416.8 993.4L417.3 990.3L417.7 988.6L418.2 992.3L418.6 982.5L419.1 987.2L419.5 995.1L420.0 991.6L420.4 991.0L420.9 989.6L421.3 989.2L421.8 987.5L422.2 992.5L422.7 992.6L423.1 991.9L423.6 981.4L424.0 994.5L424.5 992.8L424.9 995.2L425.4 988.1L425.8 983.4L426.3 985.8L426.7 987.6L427.2 998.0L427.6 987.8L428.1 989.0L428.5 992.9L429.0 993.1L429.4 992.8L429.9 988.8L430.3 994.8L430.8 991.4L431.2 988.1L431.7 991.6L432.1 985.6L432.6 986.0L433.0 988.1L433.5 986.9L433.9 988.5L434.4 987.8L434.8 988.2L435.3 987.3L435.7 993.5L436.2 987.1L436.6 987.4L437.1 987.6L437.5 987.8L438.0 984.8L438.4 997.3L438.9 989.1L439.3 992.6L439.8 989.1L440.2 985.6L440.7 988.5L441.1 988.4L441.6 986.8L442.0 990.4L442.5 993.9L442.9 990.8L443.4 992.9L443.8 994.3L444.3 983.8L444.7 995.7L445.2 986.7L445.6 997.6L446.1 991.0L446.5 991.9L447.0 997.0L447.4 994.4L447.9 984.6L448.3 985.6L448.8 987.0L449.2 993.8L449.7 991.2L450.1 996.2L450.6 992.0L451.0 994.7L451.5 987.3L451.9 983.2L452.4 988.1L452.8 992.7L453.3 986.3L453.7 984.1L454.2 988.3L454.6 992.2L455.1 991.5L455.5 988.9L456.0 989.0L456.4 980.4L456.9 990.2L457.3 997.9L457.8 989.0L458.2 994.4L458.7 985.9L459.1 989.0L459.6 988.2L460.0 990.0L460.5 981.9L460.9 993.3L461.4 988.6L461.8 979.3L462.3 992.4L462.7 990.4L463.2 987.0L463.6 989.7L464.1 992.1L464.5 991.9L465.0 991.1L465.4 987.1L465.9 991.1L466.3 993.7L466.8 996.3L467.2 992.4L467.7 992.6L468.1 992.9L468.6 989.8L469.0 985.1L469.5 988.2L469.9 989.9L470.4 991.0L470.8 990.3L471.3 988.0L471.7 987.5L472.2 989.3L472.6 987.9L473.1 986.5L473.5 984.8L474.0 988.7L474.4 989.6L474.9 987.3L475.3 989.0L475.8 989.3L476.2 983.5L476.7 985.9L477.1 983.6L477.6 990.6L478.0 986.6L478.5 989.4L478.9 981.8L479.4 993.9L479.8 990.9L480.3 985.7L480.7 989.6L481.2 996.8L481.6 990.0L482.1 984.9L482.5 989.5L483.0 988.7L483.4 991.2L483.9 990.5L484.3 986.4L484.8 990.8L485.2 992.9L485.7 995.9L486.1 991.2L486.6 995.3L487.0 994.1L487.5 994.4L487.9 994.5L488.4 982.1L488.8 995.6L489.3 993.7L489.7 990.5L490.2 993.6L490.6 989.0L491.1 990.3L491.5 989.8L492.0 985.2L492.4 989.9L492.9 984.7L493.3 990.1L493.8 996.4L494.2 994.8L494.7 990.7L495.1 995.1L495.6 991.8L496.0 986.9L496.5 988.9L496.9 990.5L497.4 990.7L497.8 992.9L498.3 988.6L498.7 989.5L499.2 993.5L499.6 991.2L500.1 992.1L500.5 990.8L501.0 992.7L501.4 992.6L501.9 987.0L502.3 994.3L502.8 989.3L503.2 991.7L503.7 989.8L504.1 992.6L504.6 991.4L505.0 992.3L505.5 991.0L505.9 990.1L506.4 991.2L506.8 990.5L507.3 987.8L507.7 983.7L508.2 991.7L508.6 993.3L509.1 987.7L509.5 991.9L510.0 988.6L510.4 991.2L510.9 992.4L511.3 991.3L511.8 989.3L512.2 985.6L512.7 989.7L513.1 990.0L513.6 992.9L514.0 987.9L514.5 989.6L514.9 990.3L515.4 992.6L515.8 986.5L516.3 991.9L516.7 989.6L517.2 988.2L517.6 984.5L518.1 986.5L518.5 991.4L519.0 988.2L519.4 986.7L519.9 988.8L520.3 992.2L520.8 991.7L521.2 992.5L521.7 991.7L522.1 991.4L522.6 988.3L523.0 986.7L523.5 993.9L523.9 988.6L524.4 989.7L524.8 988.3L525.3 990.4L525.7 994.2L526.2 988.0L526.6 989.5L527.1 989.3L527.5 990.8L528.0 989.1L528.4 989.2L528.9 986.9L529.3 989.2L529.8 987.4L530.2 991.0L530.7 988.6L531.1 992.2L531.6 987.5L532.0 986.7L532.5 991.9L532.9 990.4L533.4 981.2L533.8 1000.0L534.3 988.3L534.7 991.0L535.2 987.6L535.6 989.9L536.1 991.1L536.5 986.8L537.0 989.3L537.4 992.2L537.9 995.5L538.3 991.2L538.8 993.0L539.2 989.7L539.7 990.9L540.1 989.6L540.6 988.1L541.0 984.0L541.5 983.1L541.9 989.4L542.4 989.9L542.8 988.6L543.3 986.7L543.7 987.3L544.2 983.3L544.6 991.8L545.1 983.5L545.5 995.5L546.0 987.1L546.4 994.2L546.9 990.2L547.3 987.2L547.8 988.5L548.2 986.1L548.7 991.6L549.1 988.1L549.6 988.9L550.0 984.4L550.5 989.9L550.9 985.3L551.4 986.6L551.8 990.6L552.3 981.9L552.7 988.7L553.2 990.6L553.6 988.3L554.1 992.1L554.5 991.3L555.0 989.1L555.4 982.8L555.9 986.1L556.3 987.0L556.8 990.0L557.2 987.7L557.7 987.1L558.1 981.7L558.6 987.3L559.0 988.4L559.5 982.3L559.9 987.3L560.4 988.0L560.8 985.7L561.3 986.4L562.0 986.0L563.0 978.0L563.8 971.5L564.6 982.0L565.5 990.0L566.2 989.5L566.7 991.5L567.1 994.5L567.6 985.6L568.0 987.3L568.5 993.6"/>
<path stroke-width="2.2" d="M567.6 985.6L568.0 987.3L568.5 993.6L568.9 990.5L569.4 988.0L569.8 993.6L570.3 994.9L570.7 989.2L571.2 991.8L571.6 989.8L572.1 990.5L572.5 992.6L573.0 989.1L573.4 989.6L573.9 988.9L574.3 986.6L574.8 990.8L575.2 991.6L575.7 990.1L576.1 989.8L576.6 991.6L577.0 987.3L577.5 985.7L577.9 990.7L578.4 990.1L578.8 993.0L579.3 985.3L579.7 989.4L580.2 986.7L580.6 994.2L581.1 988.8L581.5 992.4L582.0 984.2L582.4 987.3L582.9 991.3L583.5 985.0L584.8 975.0L587.2 969.0L588.2 960.0L588.8 920.0L589.5 955.0L590.3 960.0L591.5 952.0L592.5 900.0L593.9 776.0L594.8 900.0L595.2 942.0L596.2 880.0L597.0 915.0L598.0 860.0L599.6 779.0L600.5 860.0L601.2 882.0L601.8 837.0L602.2 909.0L603.2 850.0L603.9 794.5L604.6 876.0L605.3 900.0L606.3 1029.0L607.2 990.0L608.4 969.0L609.6 997.0L611.2 987.0L611.6 992.5L612.2 991.7L612.9 987.0L613.6 991.1L614.3 985.5L615.0 987.3L615.6 989.8L616.3 989.5"/>
<path stroke-width="1.9" d="M615.6 989.8L616.3 989.5L617.0 990.8L617.7 988.7L618.4 990.7L619.0 990.7L619.7 989.6L620.4 987.0L621.1 987.3L621.8 990.5L622.4 994.4L623.1 987.5L623.8 988.5L624.5 985.8L625.2 982.3L625.8 988.8L626.5 988.0L627.2 988.4L627.9 985.9L628.6 985.2L629.2 988.1L629.9 983.3L630.6 986.3L631.3 985.1L632.0 981.7L632.6 978.8L633.3 978.5L634.0 971.9L634.7 975.4L635.4 976.5L636.0 975.2L636.7 977.4L637.4 980.1L638.1 980.9L638.8 974.8L639.4 978.2L640.1 978.1L640.8 976.5L641.5 976.6L642.2 979.4L642.8 981.6L643.5 978.1L644.2 984.5L644.9 981.2L645.6 982.1L646.2 981.3L646.9 984.7L647.6 980.8L648.3 982.4L649.0 984.1L649.6 982.4L650.3 983.6L651.0 985.4L651.7 986.2L652.4 984.3L653.0 983.7L653.7 986.0L654.4 985.4L655.1 983.4L655.8 987.7L656.4 985.2L657.1 984.2L657.8 987.4L658.5 987.1L659.2 984.4L659.8 987.4L660.5 985.3L661.2 986.0L661.9 985.2L662.6 988.8L663.2 987.1L663.9 988.9L664.6 984.5L665.3 987.1L666.0 983.9L666.6 986.7L667.3 987.7L668.0 988.2L668.7 985.4L669.4 990.3L670.0 985.7L670.7 991.5L671.4 989.1L672.1 992.3L672.8 986.9L673.4 989.7L674.1 990.4L674.8 992.7L675.5 990.3L676.2 993.8L676.8 990.8L677.5 991.8L678.2 989.8L678.9 990.4L679.6 991.3L680.2 987.4L680.9 985.4L681.6 990.5L682.3 993.0L683.0 993.1L683.6 990.3L684.3 991.6L685.0 990.5L685.7 990.9L686.4 992.1L687.0 988.7L687.7 987.0L688.4 987.6L689.1 988.8L689.8 992.2L690.4 990.4L691.1 987.4L691.8 989.6L692.5 989.8L693.2 993.1L693.8 991.4L694.5 991.4L695.2 992.2L695.9 991.3L696.6 993.5L697.2 989.4L697.9 988.9L698.6 990.0L699.3 994.5L700.0 988.7L700.6 991.3L701.3 991.8L702.0 988.0L702.7 987.5L703.4 993.4L704.0 989.5L704.7 989.0L705.4 990.1L706.1 989.4L706.8 986.3L707.4 985.4L708.1 988.2L708.8 985.9L709.5 986.6L710.2 982.1L710.8 990.3L711.5 986.3L712.2 992.6L712.9 986.6L713.6 987.2L714.2 986.1L714.9 986.6L715.6 987.1L716.3 984.2L717.0 982.6L717.6 982.7L718.3 983.7L719.0 985.4L719.7 977.7L720.4 980.4L721.0 983.4L721.7 986.1L722.4 980.6L723.1 982.5L723.8 980.5L724.4 979.9L725.1 980.6L725.8 978.0L726.5 978.9L727.2 978.5L727.8 983.1L728.5 978.8L729.2 982.0L729.9 978.3L730.6 978.8L731.2 976.0L731.9 978.6L732.6 981.0L733.3 981.9L734.0 975.7L734.6 983.4L735.3 978.3L736.0 978.9L736.7 980.5L737.4 977.5L738.0 975.7L738.7 977.3L739.4 976.5L740.1 980.5L740.8 977.0L741.4 970.5L742.1 981.4L742.8 977.5L743.5 976.2L744.2 971.8L744.8 983.1L745.5 974.9L746.2 975.2L746.9 974.4L747.6 975.8L748.2 975.5L748.9 976.8L749.6 977.7L750.3 978.3L751.0 983.9L751.6 981.4L752.3 988.3L753.0 988.4L753.7 988.6L754.4 990.4L755.0 989.8L755.7 989.8L756.4 988.6L757.1 988.5L757.8 988.1L758.4 988.2L759.1 989.3L759.8 991.4L760.5 990.2L761.2 990.7L761.8 989.2L762.5 986.5L763.2 990.6L763.9 994.7L764.6 988.4L765.2 992.7L765.9 989.1L766.6 988.2L767.3 989.1L768.0 988.4L768.6 991.6L769.3 990.7L770.0 990.5L770.7 989.6L771.4 991.8L772.0 992.7L772.7 990.7L773.4 989.4L774.1 989.2L774.8 990.1L775.4 987.9L776.1 992.8L776.8 989.0L777.5 992.0L778.2 989.1L778.8 991.8L779.5 991.2L780.2 991.6L780.9 991.0L781.6 989.3L782.2 994.0L782.9 988.5L783.6 992.4L784.3 990.2L785.0 988.4L785.6 992.1L786.3 993.6L787.0 992.2L787.7 988.7L788.4 989.3L789.0 991.3L789.7 991.0L790.4 993.0L791.1 990.0L791.8 988.5L792.4 986.8L793.1 990.8L793.8 988.9L794.5 988.6L795.2 991.1L795.8 993.4L796.5 989.7L797.2 990.1L797.9 990.0L798.6 991.5L799.2 989.8L799.9 989.7L800.6 990.3L801.3 989.0L802.0 991.9L802.6 992.8L803.3 990.4L804.0 990.5L804.7 990.7L805.4 990.4L806.0 989.5L806.7 991.4L807.4 991.7L808.1 992.3L808.8 989.3L809.4 990.6L810.1 988.4L810.8 993.3L811.5 987.7L812.2 990.2L812.8 992.4L813.5 988.0L814.2 990.5L814.9 987.6L815.6 991.9L816.5 989.0L817.5 982.0L818.2 977.8L819.0 986.0L820.5 990.0L822.0 987.0L824.0 984.0L826.0 986.0L828.0 980.0L829.3 975.0L830.3 981.0L831.5 976.0L832.5 982.0L833.5 970.0L834.5 980.0L835.5 977.0L836.5 984.0L837.6 974.0L838.6 978.0L839.3 988.0L840.0 992.0L840.7 989.3L841.4 991.5L842.1 990.8L842.8 990.8L843.4 992.2L844.1 988.6L844.8 990.1L845.5 991.6L846.2 991.4L846.8 992.5L847.5 991.8L848.2 989.1L848.9 992.3L849.6 991.0L850.2 991.4L850.9 992.7L851.6 991.3L852.3 990.9L853.0 989.0L853.6 990.6L854.3 992.8L855.0 992.2L855.7 989.3L856.4 989.3L857.0 990.5L857.7 992.0L858.4 989.9L859.1 993.9L859.8 993.3L860.4 988.5L861.1 994.3L861.8 992.4L862.5 987.6L863.2 987.5L863.8 989.5L864.5 989.4L865.2 988.1L865.9 989.0L866.6 990.4L867.2 987.8L867.9 986.5L868.6 988.3L869.3 991.1L870.0 992.4L870.6 991.3L871.3 984.7L872.0 987.5L872.7 988.8L873.4 987.7L874.0 989.7L874.7 989.6L875.4 990.6L876.1 991.1L876.8 988.3L877.4 991.8L878.1 987.2L878.8 987.8L879.5 987.8L880.2 987.6L880.8 990.0L881.5 992.0L882.2 986.5L882.9 990.2L883.6 991.4L884.2 989.9L884.9 987.3L885.6 990.8L886.3 991.3L887.0 988.2L887.6 989.7L888.3 991.8L889.0 991.5L889.7 992.5L890.4 994.2L891.0 989.2L891.7 989.1L892.4 993.1L893.1 990.4L893.8 992.4L894.4 991.8L895.1 990.1L895.8 992.2L896.5 991.5L897.2 990.1L897.8 990.4L898.5 990.3L899.2 991.3L899.9 992.1L900.6 991.5L901.2 990.7L901.9 988.9L902.6 991.0L903.3 990.6L904.0 989.3L904.6 989.5L905.3 993.5L906.0 992.5L906.7 988.2L907.4 991.8L908.0 991.4L908.7 992.8L909.4 989.4L910.1 993.0L910.8 989.9L911.4 990.5L912.1 991.0L912.8 992.6L913.5 990.8L914.2 988.5L914.8 991.6L915.5 990.7L916.2 990.2L916.9 988.1L917.6 990.2L918.2 992.0L918.9 992.4L919.6 991.3L920.3 989.7L921.0 991.7L921.6 989.2L922.3 991.5L923.0 989.6L923.7 988.4L924.4 991.1L925.0 990.9L925.7 990.9L926.4 989.6L927.1 988.0L927.8 992.0L928.4 990.5L929.1 992.6L929.8 992.7L930.5 989.2L931.2 990.0L931.8 985.4L932.5 990.5L933.2 988.7L933.9 990.8L934.6 989.8L935.2 989.9L935.9 989.3L936.6 989.2L937.3 992.5L938.0 991.5L938.6 993.8L939.3 991.6L940.0 990.0L940.7 990.1L941.4 993.1L942.0 988.4L942.7 990.6L943.4 990.3L944.1 988.0L944.8 992.3L945.4 990.5L946.1 990.2L946.8 989.1L947.5 990.5L948.2 990.4L948.8 992.1L949.5 989.9L950.2 994.3L950.9 989.2L951.6 990.8L952.2 989.6L952.9 991.7L953.6 990.1L954.3 993.3L955.0 992.3L955.6 991.1L956.3 987.9L957.0 990.4L957.7 990.2L958.4 991.3L959.0 988.7L959.7 991.5L960.4 991.6L961.1 990.1L961.8 990.9L962.4 989.9L963.1 991.6L963.8 989.1L964.5 989.5L965.2 995.2L965.8 990.4L966.5 990.4L967.2 989.4L967.9 990.1L968.6 990.8L969.2 988.5L969.9 988.4L970.6 989.9L971.3 992.4L972.0 990.0L972.6 996.6L973.3 992.6L974.0 991.7L974.7 990.1L975.4 991.6L976.0 994.2L976.7 988.4L977.4 991.7L978.1 992.3L978.8 991.8L979.4 990.7L980.1 989.9L980.8 992.1L981.5 987.8L982.2 992.9L982.8 989.0L983.5 987.4L984.2 990.0L984.9 990.3L985.6 990.0L986.2 988.0L986.9 989.7L987.6 991.5L988.3 991.0L989.0 991.7L989.6 990.6L990.3 989.2L991.0 990.0L991.7 990.5L992.4 990.8L993.0 990.9L993.7 990.8L994.4 992.2L995.1 991.3L995.8 989.0L996.4 991.1L997.1 990.0L997.8 987.4L998.5 987.6L999.2 985.9L999.8 985.9L1000.5 984.1L1001.2 985.1L1001.9 990.0L1002.6 989.3L1003.2 993.2L1003.9 992.6L1004.6 990.8L1005.3 993.2L1006.0 988.8L1006.6 990.8L1007.3 988.4L1008.0 990.8L1008.7 992.0L1009.4 990.8L1010.0 991.2L1010.7 989.5L1011.4 990.9L1012.1 989.6L1012.8 990.7L1013.4 989.4L1014.1 992.1L1014.8 991.3L1015.5 991.2L1016.2 991.4L1016.8 992.3L1017.5 990.6L1018.2 988.8L1018.9 989.8L1019.6 993.2L1020.2 991.3L1020.9 989.2L1021.6 988.9L1022.3 991.9L1023.0 990.2L1023.6 992.8L1024.3 992.2L1025.0 990.1L1025.7 990.2L1026.4 989.5L1027.0 991.3L1027.7 988.6L1028.4 990.9L1029.1 989.9L1029.8 992.8L1030.4 990.0L1031.1 989.5L1031.8 991.2L1032.5 989.1L1033.2 991.8L1033.8 989.8L1034.5 989.6L1035.2 990.0L1035.9 989.7L1036.6 988.7L1037.2 991.3L1037.9 990.3L1038.6 989.7L1039.3 992.9L1040.0 990.7L1040.6 992.8L1041.3 987.9L1042.0 992.0L1042.7 990.3L1043.4 992.7L1044.0 990.2L1044.7 989.5L1045.4 989.0L1046.1 990.5L1046.8 987.8L1047.4 988.9L1048.1 987.8L1048.8 994.3L1049.5 990.3L1050.2 988.5L1050.8 985.1L1051.5 988.6L1052.2 987.4L1052.9 988.4L1053.6 988.4L1054.2 986.9L1054.9 986.2L1055.6 986.9L1056.3 987.8L1057.0 987.5L1057.6 987.6L1058.3 988.2L1059.0 985.8L1059.7 988.6L1060.4 986.7L1061.0 987.4L1061.7 985.4L1062.4 987.2L1063.1 990.5L1063.8 987.9L1064.4 986.7L1065.1 986.5L1065.8 984.9L1066.5 983.8L1067.2 982.8L1067.8 985.8L1068.5 986.3L1069.2 986.6L1069.9 979.7L1070.6 983.3L1071.2 985.6L1071.9 984.1L1072.6 986.0L1073.3 986.0L1074.0 981.0L1074.6 984.5L1075.3 981.6L1076.0 978.8L1076.7 978.9L1077.4 976.1L1078.0 973.9L1078.7 980.0L1079.4 978.4L1080.1 978.3L1080.8 977.5L1081.4 973.4L1082.1 976.6L1082.8 978.4L1083.5 975.5L1084.2 974.0L1084.8 973.4L1085.5 972.0L1086.2 962.0L1086.9 955.8L1087.6 966.0L1088.5 970.0L1089.5 966.0L1090.3 950.0L1091.1 910.0L1091.8 897.7L1092.5 915.0L1093.3 960.0L1094.3 984.9L1095.2 950.0L1096.0 915.4L1096.8 950.0L1097.5 975.0L1098.5 983.5L1099.5 975.0L1100.5 970.0L1101.5 955.0L1102.4 943.9L1103.3 960.0L1104.2 972.0L1105.3 975.0L1106.5 985.0L1107.5 988.0L1109.5 992.0L1110.0 993.9L1110.7 992.6L1111.4 993.8L1112.0 991.8L1112.7 992.2L1113.4 994.7L1114.1 989.9L1114.8 992.2L1115.4 990.9L1116.1 994.4L1116.8 991.4L1117.5 992.1L1118.2 992.0L1118.8 990.8L1119.5 991.5L1120.2 991.1L1120.9 993.0L1121.6 991.0L1122.2 993.9L1122.9 992.4L1123.6 993.1L1124.3 993.2L1125.0 993.1L1125.6 992.1L1126.3 991.0L1127.0 991.4L1127.7 991.7L1128.4 993.0L1129.0 991.5L1129.7 991.3L1130.4 995.8L1131.1 992.0L1131.8 992.3L1132.4 990.5L1133.1 990.7L1133.8 991.0L1134.5 990.0L1135.2 991.5L1135.8 991.8L1136.5 990.5L1137.2 991.0L1137.9 992.3L1138.6 988.9L1139.2 990.9L1139.9 992.8L1140.6 992.0L1141.3 992.0L1142.0 994.5L1142.6 994.1L1143.3 992.1L1144.0 990.5L1144.7 989.7L1145.4 990.3L1146.0 992.4L1146.7 990.2L1147.4 990.3L1148.1 992.3L1148.8 990.8L1149.4 991.7L1150.1 989.3L1150.8 990.4L1151.5 990.1L1152.2 990.1L1152.8 987.1L1153.5 989.6L1154.2 991.4L1154.9 990.6L1155.6 991.1L1156.2 989.5L1156.9 992.9L1157.6 990.1L1158.3 990.2L1159.0 991.2L1159.6 990.3L1160.3 990.8L1161.0 992.4L1161.7 991.2L1162.4 990.3L1163.0 992.4L1163.7 990.1L1164.4 990.1L1165.1 990.6L1165.8 990.6L1166.4 987.7L1167.1 990.4L1167.8 989.8L1168.5 989.4L1169.2 989.9L1169.8 989.8L1170.5 988.7L1171.2 991.9L1171.9 991.8L1172.6 990.2L1173.2 990.2L1173.9 990.2L1174.6 991.1L1175.3 990.4L1176.0 991.8L1176.6 990.4L1177.3 992.4L1178.0 988.6L1178.7 989.1L1179.4 990.3L1180.0 989.9L1180.7 989.4L1181.4 989.1L1182.1 988.8L1182.8 989.9L1183.4 989.5L1184.0 989.0L1185.2 985.0L1186.0 962.3L1186.8 985.0L1187.8 992.0L1188.6 996.2L1189.5 990.0L1191.0 987.0L1191.6 987.2L1192.3 985.8L1193.0 987.4L1193.6 987.2L1194.3 987.4L1195.0 987.3L1195.7 986.4L1196.4 987.3L1197.0 986.1L1197.7 987.6L1198.4 987.1L1199.1 986.5L1199.8 987.1L1200.4 987.9L1201.1 987.3L1201.8 988.7L1202.5 990.2L1203.2 988.7L1203.8 989.1L1204.5 988.4L1205.2 989.1L1205.9 988.8L1206.6 991.5L1207.2 990.0L1207.9 991.3L1208.6 990.1L1209.3 990.6L1210.0 989.6L1210.6 989.3L1211.3 992.1L1212.0 991.9L1212.7 991.2L1213.4 990.7L1214.0 990.8L1214.7 990.2L1215.4 991.5L1216.1 992.4L1216.8 990.8L1217.4 993.9L1218.1 991.3L1218.8 991.9L1219.5 991.2L1220.2 989.1L1220.8 989.6L1221.5 991.4L1222.2 991.7L1222.9 989.1L1223.6 991.8L1224.2 990.4L1224.9 992.8L1225.6 990.5L1226.3 991.8L1227.0 990.7L1227.6 989.9L1228.3 991.2L1229.0 990.5L1229.7 990.1L1230.4 991.6L1231.0 990.8L1231.7 990.5L1232.4 991.3L1233.1 991.7L1233.8 992.2L1234.4 992.5L1235.1 991.0L1235.8 992.3L1236.5 991.7L1237.2 991.3L1237.8 991.7L1238.5 991.7L1239.2 990.6L1239.9 990.4L1240.6 991.4L1241.2 991.3L1241.9 989.6L1242.6 990.6L1243.3 990.3L1244.0 990.5L1244.6 990.9L1245.3 992.1L1246.0 989.7L1246.7 990.8L1247.4 991.4L1248.0 988.9L1248.7 992.1L1249.4 991.3L1250.1 993.1L1250.8 991.8L1251.4 990.8L1252.1 991.5L1252.8 991.1L1253.5 991.3L1254.2 989.6L1254.8 990.9L1255.5 990.8L1256.2 991.5L1256.9 992.6L1257.6 992.3L1258.2 993.3L1258.9 991.2L1259.6 990.8L1260.3 989.8L1261.0 990.0L1261.6 992.0L1262.3 990.8L1263.0 989.9L1263.7 990.4L1264.4 989.8L1265.0 989.0L1265.7 989.9L1266.4 992.2L1267.1 991.0L1267.8 991.8L1268.4 993.2L1269.1 990.5L1269.8 990.6L1270.5 990.0L1271.2 991.7L1271.8 991.3L1272.5 989.6L1273.2 991.8L1273.9 991.3L1274.6 989.0L1275.2 990.0L1275.9 991.2L1276.6 989.8L1277.3 990.2L1278.0 990.7L1278.6 990.2L1279.3 989.7L1280.0 991.1L1280.7 992.7L1281.4 991.1L1282.0 993.8L1282.7 991.4L1283.4 991.2L1284.1 990.1L1284.8 990.4L1285.4 990.7L1286.1 992.1L1286.8 990.7L1287.5 992.2L1288.2 992.2L1288.8 991.1L1289.5 991.6L1290.2 992.3L1290.9 990.0L1291.6 989.5L1292.2 990.6L1292.9 991.4L1293.6 992.4L1294.3 991.5L1295.0 992.8L1295.6 991.3L1296.3 991.0L1297.0 991.9L1297.7 991.9L1298.4 991.2L1299.0 991.4L1299.7 991.4L1300.4 991.3L1301.1 991.2L1301.8 990.6L1302.4 991.3L1303.1 990.9L1303.8 991.7L1304.5 991.3L1305.2 990.2L1305.8 991.0L1306.5 990.9L1307.2 989.7L1307.9 990.4L1308.6 990.8L1309.2 992.6L1309.9 990.7L1310.6 991.0L1311.3 992.0L1312.0 991.3L1312.6 990.6L1313.3 991.1L1314.0 990.2L1314.7 990.3L1315.4 990.6L1316.0 990.9L1316.7 991.9L1317.4 991.4L1318.1 991.8L1318.8 990.1L1319.4 991.3L1320.1 991.7L1320.8 990.8L1321.5 989.2L1322.2 990.8L1322.8 991.2L1323.5 989.2L1324.2 990.4L1324.9 991.8L1325.6 990.7L1326.2 990.8L1326.9 990.2L1327.6 991.3L1328.3 992.2L1329.0 992.4L1329.6 991.8L1330.3 992.5L1331.0 990.6L1331.7 990.2L1332.4 989.9L1333.0 989.6L1333.7 990.7L1334.4 990.6L1335.1 990.3L1335.8 992.7L1336.4 992.6L1337.1 991.5L1337.8 990.4L1338.5 989.7L1339.2 990.7L1339.8 989.5L1340.5 991.2L1341.2 990.8L1341.9 989.7L1342.6 990.7L1343.2 990.6L1343.9 991.4L1344.6 990.4L1345.3 991.8L1346.0 990.4L1346.6 990.5L1347.3 991.0L1348.0 990.0L1348.7 990.4L1349.4 989.6L1350.0 989.1L1350.7 988.9L1351.4 989.8L1352.1 989.6L1352.8 989.7L1353.4 991.7L1354.1 990.7L1354.8 991.1L1355.5 991.0L1356.2 991.1L1356.8 990.8L1357.5 990.6L1358.2 991.1L1358.9 991.3L1359.6 991.4L1360.2 991.7L1360.9 991.9L1361.6 991.1L1362.3 992.8L1363.0 992.3L1363.6 991.3L1364.3 991.2L1365.0 990.8L1365.7 992.1L1366.4 989.7L1367.0 990.4L1367.7 991.1L1368.4 988.7L1369.1 989.5L1369.8 990.8L1370.4 988.8L1371.1 990.6L1371.8 990.7L1372.5 991.4L1373.2 991.1L1373.8 991.6L1374.5 990.1L1375.2 992.2L1375.9 991.4L1376.6 991.3L1377.2 990.8L1377.9 991.6L1378.6 991.1L1379.3 991.2L1380.0 990.8L1380.6 990.7L1381.3 992.1L1382.0 991.9L1382.7 992.5L1383.4 992.4L1384.0 990.4L1384.7 991.7L1385.4 991.5L1386.1 991.0L1386.8 991.2L1387.4 991.2L1388.1 991.0L1388.8 991.1L1389.5 991.1L1390.2 992.2L1390.8 990.2L1391.5 990.4L1392.2 991.9L1392.9 990.4L1393.6 992.0L1394.2 992.4L1394.9 993.2L1395.6 991.6L1396.3 991.5L1397.0 991.9L1397.6 991.8L1398.3 991.4L1399.0 991.4L1399.7 991.8L1400.4 992.6L1401.0 989.8L1401.7 991.7L1402.4 991.3L1403.1 990.5L1403.8 990.2L1404.4 991.0L1405.1 990.6L1405.8 992.0L1406.5 991.9L1407.2 991.6L1407.8 991.5L1408.5 990.3L1409.2 991.6L1409.9 990.7L1410.6 991.1L1411.2 991.1L1411.9 991.1L1412.6 991.2L1413.3 990.4L1414.0 990.6L1414.6 990.3L1415.3 991.3L1416.0 991.2L1416.7 992.8L1417.4 992.4L1418.0 992.3L1418.7 992.7L1419.4 991.8L1420.1 993.1L1420.8 990.7L1421.4 992.0L1422.1 991.7L1422.8 990.4L1423.5 986.2L1424.2 983.8L1424.8 987.4L1425.5 990.3L1426.2 991.1L1426.9 991.2L1427.6 992.2L1428.2 993.8L1428.9 993.7L1429.6 992.4L1430.3 992.0L1431.0 991.1L1431.6 989.5L1432.3 988.5L1433.0 987.8L1433.7 988.2L1434.4 989.3L1435.0 991.0L1435.7 990.8L1436.4 990.0L1437.1 991.3L1437.8 990.1L1438.4 989.5L1439.1 989.8L1439.8 990.7L1440.5 991.2L1441.2 990.7L1441.8 990.5L1442.5 990.7L1443.2 991.3L1443.9 992.2L1444.6 990.8L1445.2 991.0L1445.9 993.4L1446.6 990.4L1447.3 989.2L1448.0 990.9L1448.6 990.9L1449.3 990.8L1450.0 992.7L1450.7 991.8L1451.4 990.6L1452.0 992.7L1452.7 991.1L1453.4 991.2L1454.1 990.3L1454.8 989.8L1455.4 990.8L1456.1 991.5L1456.8 991.4L1457.5 991.3L1458.2 991.1L1458.8 991.8L1459.5 990.1L1460.2 990.5L1460.9 989.8L1461.6 990.1L1462.2 990.4L1462.9 990.1L1463.6 990.1L1464.3 990.9L1465.0 991.8L1465.6 991.1L1466.3 991.1L1467.0 990.9L1467.7 991.8L1468.4 991.4L1469.0 992.4L1469.7 990.8L1470.4 991.8L1471.1 990.3L1471.8 990.9L1472.4 991.3L1473.1 990.2L1473.8 989.9L1474.5 991.3L1475.2 991.6L1475.8 992.6L1476.5 992.7L1477.2 992.7L1477.9 991.3L1478.6 993.4L1479.2 992.6L1479.9 993.0L1480.6 990.9L1481.3 992.3L1482.0 991.6L1482.6 991.5L1483.3 992.7L1484.0 990.4L1484.7 990.4L1485.4 991.1L1486.0 991.3L1486.7 990.4L1487.4 989.8L1488.1 989.9L1488.8 988.8L1489.4 990.2L1490.1 990.1L1490.8 990.3L1491.5 992.0L1492.2 992.5L1492.8 992.5L1493.5 992.2L1494.2 992.0L1494.9 990.9L1495.6 989.7L1496.2 990.5L1496.9 991.1L1497.6 991.4L1498.3 992.3L1499.0 993.8L1499.6 992.1L1500.3 991.3L1501.0 991.2L1501.7 990.0L1502.4 991.5L1503.0 990.7L1503.7 991.6L1504.4 992.2L1505.1 991.9L1505.8 992.0L1506.4 990.9L1507.1 991.1L1507.8 990.5L1508.5 990.8L1509.2 988.8L1509.8 991.0L1510.5 991.0L1511.2 990.9L1511.9 989.8L1512.6 989.8L1513.2 990.7L1513.9 990.6L1514.6 991.2L1515.3 990.5L1516.0 990.3L1516.6 991.3L1517.3 991.2L1518.0 991.4L1518.7 991.7L1519.4 991.5L1520.0 991.1L1520.7 990.7L1521.4 991.0L1522.1 991.0L1522.8 990.7L1523.4 989.9L1524.1 990.3L1524.8 990.8L1525.5 991.1L1526.2 989.7L1526.8 990.8L1527.5 989.8"/>
</g>
<g stroke="#000" stroke-width="4.1" fill="none" stroke-linecap="round" stroke-linejoin="round"><rect x="165.0" y="52.4" width="1363.5" height="1020.0"/><line x1="335.4" y1="1072.4" x2="335.4" y2="1053.0"/><line x1="505.9" y1="1072.4" x2="505.9" y2="1053.0"/><line x1="676.3" y1="1072.4" x2="676.3" y2="1053.0"/><line x1="846.8" y1="1072.4" x2="846.8" y2="1053.0"/><line x1="1017.2" y1="1072.4" x2="1017.2" y2="1053.0"/><line x1="1187.6" y1="1072.4" x2="1187.6" y2="1053.0"/><line x1="1358.1" y1="1072.4" x2="1358.1" y2="1053.0"/></g>
<g fill="#000">
<polygon points="593.2,119.4 595.7,126.2 602.9,126.4 597.2,130.9 599.2,137.9 593.2,133.8 587.2,137.9 589.2,130.9 583.5,126.4 590.7,126.2"/>
<circle cx="602.2" cy="149.9" r="8.2"/>
<circle cx="643.2" cy="633.6" r="8.2"/>
<polygon points="641.6,666.2 651.5,678.8 641.6,691.4 631.8,678.8"/>
<circle cx="740.7" cy="636.8" r="8.2"/>
<polygon points="739.1,669.7 749.0,682.3 739.1,694.9 729.2,682.3"/>
<circle cx="834.1" cy="685.2" r="8.2"/>
<polygon points="1106.0,618.1 1115.8,630.7 1106.0,643.3 1096.2,630.7"/>
<polygon points="1105.1,666.1 1107.5,672.8 1114.6,673.0 1109.0,677.4 1111.0,684.2 1105.1,680.2 1099.2,684.2 1101.2,677.4 1095.6,673.0 1102.7,672.8"/>
<polygon points="1190.9,659.0 1193.3,665.7 1200.4,665.9 1194.8,670.3 1196.8,677.1 1190.9,673.1 1185.0,677.1 1187.0,670.3 1181.4,665.9 1188.5,665.7"/>
<polygon points="1200.3,681.0 1210.1,693.6 1200.3,706.2 1190.5,693.6"/>
<polygon points="1234.1,120.1 1236.7,127.4 1244.5,127.6 1238.4,132.4 1240.5,139.8 1234.1,135.5 1227.7,139.8 1229.8,132.4 1223.7,127.6 1231.5,127.4"/>
<polygon points="1241.3,180.0 1251.1,192.6 1241.3,205.2 1231.5,192.6"/>
<circle cx="1240.0" cy="254.0" r="8.2"/>
</g>
<text transform="translate(166.4 1139.0) scale(0.97 1)" font-size="63" text-anchor="middle">10</text>
<text transform="translate(336.8 1139.0) scale(0.97 1)" font-size="63" text-anchor="middle">20</text>
<text transform="translate(507.3 1139.0) scale(0.97 1)" font-size="63" text-anchor="middle">30</text>
<text transform="translate(677.7 1139.0) scale(0.97 1)" font-size="63" text-anchor="middle">40</text>
<text transform="translate(848.1 1139.0) scale(0.97 1)" font-size="63" text-anchor="middle">50</text>
<text transform="translate(1018.6 1139.0) scale(0.97 1)" font-size="63" text-anchor="middle">60</text>
<text transform="translate(1189.0 1139.0) scale(0.97 1)" font-size="63" text-anchor="middle">70</text>
<text transform="translate(1359.5 1139.0) scale(0.97 1)" font-size="63" text-anchor="middle">80</text>
<text transform="translate(1529.9 1139.0) scale(0.97 1)" font-size="63" text-anchor="middle">90</text>
<text transform="translate(813.6 1245.7) scale(0.973 1)" font-size="62.4" text-anchor="middle">2 Theta (deg.)</text>
<text transform="translate(69.1 603.3) rotate(-90) scale(0.979 1)" font-size="63.3" text-anchor="middle">Intensity (a.u.)</text>
<text transform="translate(1268.5 141.4) scale(0.975 1)" font-size="48">Mg</text>
<text transform="translate(1258.5 204.4) scale(0.975 1)" font-size="48">MgO</text>
<text transform="translate(1260.0 267.2) scale(0.975 1)" font-size="48">Mg<tspan font-size="27.5" dy="18.6">2</tspan><tspan dy="-18.6">SiO</tspan><tspan font-size="27.5" dy="18.6">4</tspan></text>
<text transform="translate(1157.0 627.3) scale(0.975 1)" font-size="48">UMAO/PLGA/NG</text>
<text transform="translate(1228.5 800.7) scale(0.975 1)" font-size="48">UMAO/PLGA</text>
<text transform="translate(1310.7 930.2) scale(0.975 1)" font-size="48">UMAO</text>

</svg>
</body>
</html>
